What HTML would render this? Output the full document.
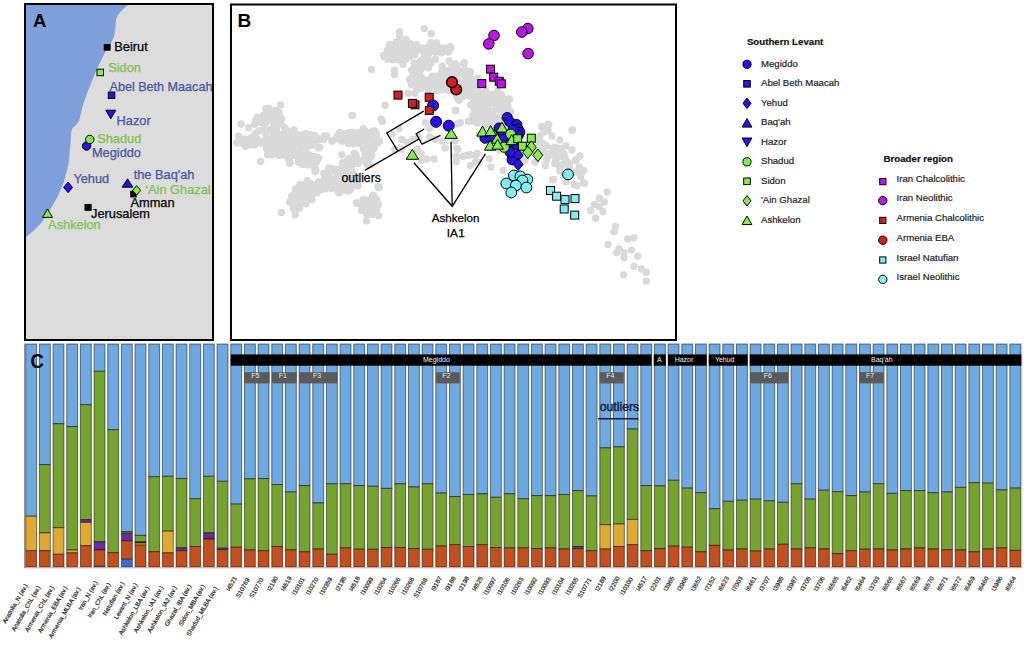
<!DOCTYPE html><html><head><meta charset="utf-8"><style>html,body{margin:0;padding:0;background:#fff;width:1024px;height:646px;overflow:hidden}svg{display:block}text{font-family:"Liberation Sans", sans-serif}</style></head><body><svg width="1024" height="646" viewBox="0 0 1024 646"><rect x="25" y="4" width="188" height="336" fill="#dcdcdc"/><polygon points="25,4 128.5,4.0 127.3,5.0 120.3,12.1 117.3,16.1 115.9,20.1 115.3,28.1 114.3,36.2 110.3,44.2 105.2,52.3 101.2,60.3 97.2,68.3 92.2,80.4 88.1,90.5 83.1,104.5 81.1,112.6 79.1,120.6 76.0,125.0 72.5,128.0 71.2,132.0 70.6,142.5 68.5,164.2 64.1,181.6 57.6,196.8 50.0,209.8 41.4,222.8 32.7,231.5 25.0,238.0 25,238" fill="#80a0dc"/><rect x="25" y="4" width="188" height="336" fill="none" stroke="#000" stroke-width="2"/><text x="33.0" y="27.0" font-size="18.5" fill="#000" font-weight="bold" text-anchor="start" >A</text><rect x="104.0" y="44.2" width="6.3" height="6.3" fill="#000" stroke="#000" stroke-width="0.5"/><text x="114.3" y="51.3" font-size="12.8" fill="#000" font-weight="normal" text-anchor="start"  stroke="#000" stroke-width="0.25">Beirut</text><rect x="97.0" y="69.2" width="6.5" height="6.5" fill="#86ee4a" stroke="#000" stroke-width="1"/><text x="108.2" y="71.6" font-size="12.8" fill="#7ec052" font-weight="normal" text-anchor="start"  stroke="#7ec052" stroke-width="0.25">Sidon</text><rect x="108.3" y="92.0" width="6.5" height="6.5" fill="#2a10ee" stroke="#000" stroke-width="1"/><text x="109.5" y="90.8" font-size="12.6" fill="#4656a2" font-weight="normal" text-anchor="start"  stroke="#4656a2" stroke-width="0.25">Abel Beth Maacah</text><polygon points="105.8,110.2 115.8,110.2 110.8,118.8" fill="#2a10ee" stroke="#000" stroke-width="1"/><text x="116.6" y="125.0" font-size="12.8" fill="#4656a2" font-weight="normal" text-anchor="start"  stroke="#4656a2" stroke-width="0.25">Hazor</text><circle cx="86.6" cy="146.0" r="4.20" fill="#2a10ee" stroke="#000" stroke-width="1"/><circle cx="89.8" cy="139.5" r="4.20" fill="#86ee4a" stroke="#000" stroke-width="1"/><text x="97.2" y="143.4" font-size="12.8" fill="#7ec052" font-weight="normal" text-anchor="start"  stroke="#7ec052" stroke-width="0.25">Shadud</text><text x="91.9" y="156.6" font-size="12.8" fill="#4656a2" font-weight="normal" text-anchor="start"  stroke="#4656a2" stroke-width="0.25">Megiddo</text><polygon points="68.1,182.1 72.5,187.4 68.1,192.7 63.7,187.4" fill="#2a10ee" stroke="#000" stroke-width="1" stroke-linejoin="miter"/><text x="73.4" y="183.0" font-size="12.8" fill="#4656a2" font-weight="normal" text-anchor="start"  stroke="#4656a2" stroke-width="0.25">Yehud</text><polygon points="127.5,178.8 132.8,187.2 122.2,187.2" fill="#2a10ee" stroke="#000" stroke-width="1"/><text x="133.7" y="179.4" font-size="12.8" fill="#4656a2" font-weight="normal" text-anchor="start"  stroke="#4656a2" stroke-width="0.25">the Baq'ah</text><rect x="130.4" y="191.1" width="6.0" height="6.0" fill="#000" stroke="#000" stroke-width="0.5"/><polygon points="136.6,185.6 140.6,190.3 136.6,195.1 132.6,190.3" fill="#86ee4a" stroke="#000" stroke-width="1" stroke-linejoin="miter"/><text x="145.2" y="194.1" font-size="12.8" fill="#7ec052" font-weight="normal" text-anchor="start"  stroke="#7ec052" stroke-width="0.25">‘Ain Ghazal</text><text x="130.5" y="207.4" font-size="12.8" fill="#000" font-weight="normal" text-anchor="start"  stroke="#000" stroke-width="0.25">Amman</text><rect x="84.8" y="204.2" width="6.5" height="6.5" fill="#000" stroke="#000" stroke-width="0.5"/><text x="91.0" y="218.2" font-size="12.8" fill="#000" font-weight="normal" text-anchor="start"  stroke="#000" stroke-width="0.25">Jerusalem</text><polygon points="47.5,208.9 52.5,217.4 42.5,217.4" fill="#86ee4a" stroke="#000" stroke-width="1"/><text x="48.1" y="228.8" font-size="12.8" fill="#7ec052" font-weight="normal" text-anchor="start"  stroke="#7ec052" stroke-width="0.25">Ashkelon</text><rect x="231" y="4.5" width="445" height="335.5" fill="#fff" stroke="#000" stroke-width="2"/><g id="cloud" fill="#d9d9d9"><circle cx="280.6" cy="105.0" r="3.7"/><circle cx="265.8" cy="108.7" r="3.7"/><circle cx="275.1" cy="110.4" r="3.7"/><circle cx="241.1" cy="124.0" r="3.7"/><circle cx="248.7" cy="127.8" r="3.7"/><circle cx="255.5" cy="120.6" r="3.7"/><circle cx="263.2" cy="115.5" r="3.7"/><circle cx="270.9" cy="117.2" r="3.7"/><circle cx="279.4" cy="115.5" r="3.7"/><circle cx="281.0" cy="124.0" r="3.7"/><circle cx="284.5" cy="127.5" r="3.7"/><circle cx="259.0" cy="130.9" r="3.7"/><circle cx="238.5" cy="136.0" r="3.7"/><circle cx="245.3" cy="139.4" r="3.7"/><circle cx="238.5" cy="142.8" r="3.7"/><circle cx="245.3" cy="146.2" r="3.7"/><circle cx="253.8" cy="144.5" r="3.7"/><circle cx="264.0" cy="141.0" r="3.7"/><circle cx="266.6" cy="148.7" r="3.7"/><circle cx="267.5" cy="154.7" r="3.7"/><circle cx="274.3" cy="137.7" r="3.7"/><circle cx="279.4" cy="144.5" r="3.7"/><circle cx="281.0" cy="154.7" r="3.7"/><circle cx="287.9" cy="158.1" r="3.7"/><circle cx="289.6" cy="163.2" r="3.7"/><circle cx="260.6" cy="161.5" r="3.7"/><circle cx="293.9" cy="130.0" r="3.7"/><circle cx="287.9" cy="136.0" r="3.7"/><circle cx="294.7" cy="141.0" r="3.7"/><circle cx="301.5" cy="136.0" r="3.7"/><circle cx="305.0" cy="134.3" r="3.7"/><circle cx="311.7" cy="136.0" r="3.7"/><circle cx="318.5" cy="139.4" r="3.7"/><circle cx="325.4" cy="136.0" r="3.7"/><circle cx="318.5" cy="147.9" r="3.7"/><circle cx="308.3" cy="142.8" r="3.7"/><circle cx="299.8" cy="146.2" r="3.7"/><circle cx="298.1" cy="153.0" r="3.7"/><circle cx="299.8" cy="161.5" r="3.7"/><circle cx="306.6" cy="158.1" r="3.7"/><circle cx="313.4" cy="156.4" r="3.7"/><circle cx="316.8" cy="161.5" r="3.7"/><circle cx="315.1" cy="168.3" r="3.7"/><circle cx="315.1" cy="171.7" r="3.7"/><circle cx="332.2" cy="141.0" r="3.7"/><circle cx="339.0" cy="134.3" r="3.7"/><circle cx="342.4" cy="141.0" r="3.7"/><circle cx="352.6" cy="115.5" r="3.7"/><circle cx="349.2" cy="132.6" r="3.7"/><circle cx="357.7" cy="132.6" r="3.7"/><circle cx="366.2" cy="132.6" r="3.7"/><circle cx="374.7" cy="130.9" r="3.7"/><circle cx="362.8" cy="141.0" r="3.7"/><circle cx="366.2" cy="149.6" r="3.7"/><circle cx="367.9" cy="158.1" r="3.7"/><circle cx="356.0" cy="154.7" r="3.7"/><circle cx="349.2" cy="158.1" r="3.7"/><circle cx="328.8" cy="168.3" r="3.7"/><circle cx="335.6" cy="171.7" r="3.7"/><circle cx="325.4" cy="175.1" r="3.7"/><circle cx="318.5" cy="182.0" r="3.7"/><circle cx="325.4" cy="185.4" r="3.7"/><circle cx="335.6" cy="182.0" r="3.7"/><circle cx="342.4" cy="185.4" r="3.7"/><circle cx="339.0" cy="192.2" r="3.7"/><circle cx="349.2" cy="182.0" r="3.7"/><circle cx="356.0" cy="178.5" r="3.7"/><circle cx="356.0" cy="185.4" r="3.7"/><circle cx="349.2" cy="190.5" r="3.7"/><circle cx="308.3" cy="182.0" r="3.7"/><circle cx="298.1" cy="187.9" r="3.7"/><circle cx="306.6" cy="192.2" r="3.7"/><circle cx="315.1" cy="192.2" r="3.7"/><circle cx="293.0" cy="195.6" r="3.7"/><circle cx="369.6" cy="164.9" r="3.7"/><circle cx="378.1" cy="187.0" r="3.7"/><circle cx="399.6" cy="32.0" r="3.7"/><circle cx="399.6" cy="36.3" r="3.7"/><circle cx="424.3" cy="28.6" r="3.7"/><circle cx="431.1" cy="33.7" r="3.7"/><circle cx="389.4" cy="45.6" r="3.7"/><circle cx="396.2" cy="42.2" r="3.7"/><circle cx="403.0" cy="42.2" r="3.7"/><circle cx="409.8" cy="43.1" r="3.7"/><circle cx="416.6" cy="44.8" r="3.7"/><circle cx="391.1" cy="50.8" r="3.7"/><circle cx="399.6" cy="49.1" r="3.7"/><circle cx="408.1" cy="50.8" r="3.7"/><circle cx="416.6" cy="49.1" r="3.7"/><circle cx="423.4" cy="49.9" r="3.7"/><circle cx="384.3" cy="56.7" r="3.7"/><circle cx="392.8" cy="55.9" r="3.7"/><circle cx="401.3" cy="55.0" r="3.7"/><circle cx="409.8" cy="56.7" r="3.7"/><circle cx="433.6" cy="45.6" r="3.7"/><circle cx="442.2" cy="48.2" r="3.7"/><circle cx="450.7" cy="48.2" r="3.7"/><circle cx="428.5" cy="51.6" r="3.7"/><circle cx="437.1" cy="51.6" r="3.7"/><circle cx="425.1" cy="56.7" r="3.7"/><circle cx="420.0" cy="61.8" r="3.7"/><circle cx="403.0" cy="64.4" r="3.7"/><circle cx="394.5" cy="70.3" r="3.7"/><circle cx="394.5" cy="74.6" r="3.7"/><circle cx="371.5" cy="69.5" r="3.7"/><circle cx="414.9" cy="66.1" r="3.7"/><circle cx="413.2" cy="73.7" r="3.7"/><circle cx="420.0" cy="71.2" r="3.7"/><circle cx="409.8" cy="79.7" r="3.7"/><circle cx="411.5" cy="84.8" r="3.7"/><circle cx="418.3" cy="83.1" r="3.7"/><circle cx="428.5" cy="67.8" r="3.7"/><circle cx="442.2" cy="66.1" r="3.7"/><circle cx="449.0" cy="61.0" r="3.7"/><circle cx="455.8" cy="64.4" r="3.7"/><circle cx="464.3" cy="62.7" r="3.7"/><circle cx="469.4" cy="72.0" r="3.7"/><circle cx="435.4" cy="76.3" r="3.7"/><circle cx="442.2" cy="79.7" r="3.7"/><circle cx="428.5" cy="81.4" r="3.7"/><circle cx="421.7" cy="78.0" r="3.7"/><circle cx="435.4" cy="86.5" r="3.7"/><circle cx="443.9" cy="88.2" r="3.7"/><circle cx="421.7" cy="88.2" r="3.7"/><circle cx="414.9" cy="93.3" r="3.7"/><circle cx="408.1" cy="93.3" r="3.7"/><circle cx="416.6" cy="89.9" r="3.7"/><circle cx="428.5" cy="89.9" r="3.7"/><circle cx="459.2" cy="81.4" r="3.7"/><circle cx="462.6" cy="86.5" r="3.7"/><circle cx="469.4" cy="95.0" r="3.7"/><circle cx="459.2" cy="100.1" r="3.7"/><circle cx="472.8" cy="103.5" r="3.7"/><circle cx="476.2" cy="93.3" r="3.7"/><circle cx="481.3" cy="96.7" r="3.7"/><circle cx="486.4" cy="93.3" r="3.7"/><circle cx="481.3" cy="107.0" r="3.7"/><circle cx="488.1" cy="108.6" r="3.7"/><circle cx="472.8" cy="115.5" r="3.7"/><circle cx="455.8" cy="110.4" r="3.7"/><circle cx="385.1" cy="105.2" r="3.7"/><circle cx="351.9" cy="115.5" r="3.7"/><circle cx="380.9" cy="118.9" r="3.7"/><circle cx="450.0" cy="72.0" r="3.7"/><circle cx="448.0" cy="80.0" r="3.7"/><circle cx="452.0" cy="90.0" r="3.7"/><circle cx="466.0" cy="94.0" r="3.7"/><circle cx="474.0" cy="84.0" r="3.7"/><circle cx="478.0" cy="78.0" r="3.7"/><circle cx="455.1" cy="63.4" r="3.7"/><circle cx="463.6" cy="63.4" r="3.7"/><circle cx="470.4" cy="71.9" r="3.7"/><circle cx="461.9" cy="71.9" r="3.7"/><circle cx="453.4" cy="71.9" r="3.7"/><circle cx="465.3" cy="85.5" r="3.7"/><circle cx="472.1" cy="87.2" r="3.7"/><circle cx="468.7" cy="95.8" r="3.7"/><circle cx="458.5" cy="100.0" r="3.7"/><circle cx="455.1" cy="110.2" r="3.7"/><circle cx="477.2" cy="94.1" r="3.7"/><circle cx="484.1" cy="94.1" r="3.7"/><circle cx="492.6" cy="94.1" r="3.7"/><circle cx="497.7" cy="90.6" r="3.7"/><circle cx="501.1" cy="95.8" r="3.7"/><circle cx="507.9" cy="99.2" r="3.7"/><circle cx="507.9" cy="106.0" r="3.7"/><circle cx="501.1" cy="104.3" r="3.7"/><circle cx="492.6" cy="102.6" r="3.7"/><circle cx="484.1" cy="102.6" r="3.7"/><circle cx="475.5" cy="104.3" r="3.7"/><circle cx="480.6" cy="111.1" r="3.7"/><circle cx="489.2" cy="111.1" r="3.7"/><circle cx="496.0" cy="109.4" r="3.7"/><circle cx="501.1" cy="111.1" r="3.7"/><circle cx="475.5" cy="116.2" r="3.7"/><circle cx="484.1" cy="117.9" r="3.7"/><circle cx="492.6" cy="117.9" r="3.7"/><circle cx="499.4" cy="117.9" r="3.7"/><circle cx="468.7" cy="121.3" r="3.7"/><circle cx="477.2" cy="123.0" r="3.7"/><circle cx="489.2" cy="124.7" r="3.7"/><circle cx="456.8" cy="123.9" r="3.7"/><circle cx="456.8" cy="148.5" r="3.7"/><circle cx="456.8" cy="157.1" r="3.7"/><circle cx="467.0" cy="155.4" r="3.7"/><circle cx="475.5" cy="155.4" r="3.7"/><circle cx="478.9" cy="162.2" r="3.7"/><circle cx="489.2" cy="158.8" r="3.7"/><circle cx="490.9" cy="167.3" r="3.7"/><circle cx="470.4" cy="165.6" r="3.7"/><circle cx="542.0" cy="126.4" r="3.7"/><circle cx="548.8" cy="124.7" r="3.7"/><circle cx="547.1" cy="129.8" r="3.7"/><circle cx="572.6" cy="129.8" r="3.7"/><circle cx="538.5" cy="141.7" r="3.7"/><circle cx="545.4" cy="145.1" r="3.7"/><circle cx="552.2" cy="148.5" r="3.7"/><circle cx="559.0" cy="148.5" r="3.7"/><circle cx="548.8" cy="155.4" r="3.7"/><circle cx="555.6" cy="157.1" r="3.7"/><circle cx="565.8" cy="160.5" r="3.7"/><circle cx="576.0" cy="160.5" r="3.7"/><circle cx="559.0" cy="165.6" r="3.7"/><circle cx="569.2" cy="167.3" r="3.7"/><circle cx="579.4" cy="167.3" r="3.7"/><circle cx="535.1" cy="162.2" r="3.7"/><circle cx="545.4" cy="165.6" r="3.7"/><circle cx="544.9" cy="145.0" r="3.7"/><circle cx="554.8" cy="147.4" r="3.7"/><circle cx="559.7" cy="149.9" r="3.7"/><circle cx="549.8" cy="154.9" r="3.7"/><circle cx="557.2" cy="157.3" r="3.7"/><circle cx="564.7" cy="158.6" r="3.7"/><circle cx="554.8" cy="163.5" r="3.7"/><circle cx="562.2" cy="164.8" r="3.7"/><circle cx="569.6" cy="164.8" r="3.7"/><circle cx="575.8" cy="159.8" r="3.7"/><circle cx="579.5" cy="169.7" r="3.7"/><circle cx="574.6" cy="172.2" r="3.7"/><circle cx="582.0" cy="172.2" r="3.7"/><circle cx="559.7" cy="170.9" r="3.7"/><circle cx="553.5" cy="179.6" r="3.7"/><circle cx="565.9" cy="182.1" r="3.7"/><circle cx="577.0" cy="185.8" r="3.7"/><circle cx="584.5" cy="183.3" r="3.7"/><circle cx="607.2" cy="192.0" r="3.7"/><circle cx="599.3" cy="198.2" r="3.7"/><circle cx="604.3" cy="201.9" r="3.7"/><circle cx="594.4" cy="204.4" r="3.7"/><circle cx="599.3" cy="206.8" r="3.7"/><circle cx="590.6" cy="210.5" r="3.7"/><circle cx="603.0" cy="211.8" r="3.7"/><circle cx="595.6" cy="218.0" r="3.7"/><circle cx="615.4" cy="226.6" r="3.7"/><circle cx="614.2" cy="231.6" r="3.7"/><circle cx="627.8" cy="239.0" r="3.7"/><circle cx="634.0" cy="237.8" r="3.7"/><circle cx="608.0" cy="244.5" r="3.7"/><circle cx="619.1" cy="248.9" r="3.7"/><circle cx="624.1" cy="252.6" r="3.7"/><circle cx="616.6" cy="252.6" r="3.7"/><circle cx="631.5" cy="250.1" r="3.7"/><circle cx="624.1" cy="257.6" r="3.7"/><circle cx="637.7" cy="256.3" r="3.7"/><circle cx="634.0" cy="266.2" r="3.7"/><circle cx="641.4" cy="268.7" r="3.7"/><circle cx="646.3" cy="272.4" r="3.7"/><circle cx="623.6" cy="274.9" r="3.7"/><circle cx="646.3" cy="281.1" r="3.7"/><circle cx="307.8" cy="182.6" r="3.7"/><circle cx="299.3" cy="187.7" r="3.7"/><circle cx="305.2" cy="188.5" r="3.7"/><circle cx="312.0" cy="189.4" r="3.7"/><circle cx="317.1" cy="192.8" r="3.7"/><circle cx="291.6" cy="196.2" r="3.7"/><circle cx="300.1" cy="196.2" r="3.7"/><circle cx="289.9" cy="202.1" r="3.7"/><circle cx="296.7" cy="201.3" r="3.7"/><circle cx="303.5" cy="203.0" r="3.7"/><circle cx="312.0" cy="199.6" r="3.7"/><circle cx="293.3" cy="208.9" r="3.7"/><circle cx="299.3" cy="208.1" r="3.7"/><circle cx="295.0" cy="214.9" r="3.7"/><circle cx="281.4" cy="212.4" r="3.7"/><circle cx="320.5" cy="183.4" r="3.7"/><circle cx="327.4" cy="186.8" r="3.7"/><circle cx="334.2" cy="186.8" r="3.7"/><circle cx="341.0" cy="186.8" r="3.7"/><circle cx="349.5" cy="188.5" r="3.7"/><circle cx="339.3" cy="192.8" r="3.7"/><circle cx="358.0" cy="186.0" r="3.7"/><circle cx="378.4" cy="187.7" r="3.7"/><circle cx="356.3" cy="203.0" r="3.7"/><circle cx="373.3" cy="195.3" r="3.7"/><circle cx="366.5" cy="200.4" r="3.7"/><circle cx="376.7" cy="203.0" r="3.7"/><circle cx="361.4" cy="210.6" r="3.7"/><circle cx="369.9" cy="208.9" r="3.7"/><circle cx="376.7" cy="210.6" r="3.7"/><circle cx="368.2" cy="214.9" r="3.7"/><circle cx="366.5" cy="220.9" r="3.7"/><circle cx="382.3" cy="121.4" r="3.7"/><circle cx="365.6" cy="131.1" r="3.7"/><circle cx="372.5" cy="131.1" r="3.7"/><circle cx="376.7" cy="138.1" r="3.7"/><circle cx="368.4" cy="139.5" r="3.7"/><circle cx="362.8" cy="143.7" r="3.7"/><circle cx="368.4" cy="147.9" r="3.7"/><circle cx="373.9" cy="145.1" r="3.7"/><circle cx="379.5" cy="140.9" r="3.7"/><circle cx="365.6" cy="154.8" r="3.7"/><circle cx="371.1" cy="156.2" r="3.7"/><circle cx="367.0" cy="164.6" r="3.7"/><circle cx="362.8" cy="160.4" r="3.7"/><circle cx="379.5" cy="186.9" r="3.7"/><circle cx="372.5" cy="196.7" r="3.7"/><circle cx="368.4" cy="202.2" r="3.7"/><circle cx="376.7" cy="203.6" r="3.7"/><circle cx="392.1" cy="133.9" r="3.7"/><circle cx="399.0" cy="128.4" r="3.7"/><circle cx="401.8" cy="139.5" r="3.7"/><circle cx="407.4" cy="142.3" r="3.7"/><circle cx="413.0" cy="139.5" r="3.7"/><circle cx="418.5" cy="136.7" r="3.7"/><circle cx="394.8" cy="149.3" r="3.7"/><circle cx="401.8" cy="149.3" r="3.7"/><circle cx="417.1" cy="149.3" r="3.7"/><circle cx="421.3" cy="153.4" r="3.7"/><circle cx="426.9" cy="159.0" r="3.7"/><circle cx="433.9" cy="159.0" r="3.7"/><circle cx="421.3" cy="160.4" r="3.7"/><circle cx="425.5" cy="122.8" r="3.7"/><circle cx="429.7" cy="128.4" r="3.7"/><circle cx="429.7" cy="136.7" r="3.7"/><circle cx="435.3" cy="139.5" r="3.7"/><circle cx="442.2" cy="140.9" r="3.7"/><circle cx="445.0" cy="147.9" r="3.7"/><circle cx="454.8" cy="140.9" r="3.7"/><circle cx="457.6" cy="149.3" r="3.7"/><circle cx="456.2" cy="156.2" r="3.7"/><circle cx="456.2" cy="161.8" r="3.7"/><circle cx="463.1" cy="156.2" r="3.7"/><circle cx="470.1" cy="154.8" r="3.7"/><circle cx="477.1" cy="153.4" r="3.7"/><circle cx="475.7" cy="161.8" r="3.7"/><circle cx="468.7" cy="121.4" r="3.7"/><circle cx="474.3" cy="121.4" r="3.7"/><circle cx="460.3" cy="122.8" r="3.7"/><circle cx="283.7" cy="133.7" r="3.7"/><circle cx="289.9" cy="138.7" r="3.7"/><circle cx="294.9" cy="135.0" r="3.7"/><circle cx="301.1" cy="136.2" r="3.7"/><circle cx="306.0" cy="133.7" r="3.7"/><circle cx="311.0" cy="135.0" r="3.7"/><circle cx="317.2" cy="137.4" r="3.7"/><circle cx="324.6" cy="136.2" r="3.7"/><circle cx="283.7" cy="144.9" r="3.7"/><circle cx="289.9" cy="143.6" r="3.7"/><circle cx="296.1" cy="143.6" r="3.7"/><circle cx="302.3" cy="142.4" r="3.7"/><circle cx="308.5" cy="144.9" r="3.7"/><circle cx="314.7" cy="143.6" r="3.7"/><circle cx="319.6" cy="147.3" r="3.7"/><circle cx="282.5" cy="154.8" r="3.7"/><circle cx="287.4" cy="153.5" r="3.7"/><circle cx="293.6" cy="151.1" r="3.7"/><circle cx="302.3" cy="148.6" r="3.7"/><circle cx="289.9" cy="162.2" r="3.7"/><circle cx="298.6" cy="162.2" r="3.7"/><circle cx="303.5" cy="156.0" r="3.7"/><circle cx="309.7" cy="157.3" r="3.7"/><circle cx="317.2" cy="157.3" r="3.7"/><circle cx="314.7" cy="167.2" r="3.7"/><circle cx="315.9" cy="170.9" r="3.7"/><circle cx="332.0" cy="141.1" r="3.7"/><circle cx="337.0" cy="136.2" r="3.7"/><circle cx="341.9" cy="141.1" r="3.7"/><circle cx="339.5" cy="132.5" r="3.7"/><circle cx="349.4" cy="133.7" r="3.7"/><circle cx="356.8" cy="133.7" r="3.7"/><circle cx="360.5" cy="139.9" r="3.7"/><circle cx="366.7" cy="137.4" r="3.7"/><circle cx="374.1" cy="135.0" r="3.7"/><circle cx="377.9" cy="141.1" r="3.7"/><circle cx="364.2" cy="146.1" r="3.7"/><circle cx="370.4" cy="148.6" r="3.7"/><circle cx="366.7" cy="154.8" r="3.7"/><circle cx="371.7" cy="156.0" r="3.7"/><circle cx="367.9" cy="164.7" r="3.7"/><circle cx="341.9" cy="154.8" r="3.7"/><circle cx="354.3" cy="153.5" r="3.7"/><circle cx="346.9" cy="161.0" r="3.7"/><circle cx="354.3" cy="159.7" r="3.7"/><circle cx="358.0" cy="163.4" r="3.7"/><circle cx="349.4" cy="165.9" r="3.7"/><circle cx="329.5" cy="168.4" r="3.7"/><circle cx="335.7" cy="169.6" r="3.7"/><circle cx="341.9" cy="170.9" r="3.7"/><circle cx="324.6" cy="177.1" r="3.7"/><circle cx="319.6" cy="182.0" r="3.7"/><circle cx="327.1" cy="182.0" r="3.7"/><circle cx="334.5" cy="180.8" r="3.7"/><circle cx="339.5" cy="184.5" r="3.7"/><circle cx="349.4" cy="185.7" r="3.7"/><circle cx="356.8" cy="184.5" r="3.7"/><circle cx="346.9" cy="190.7" r="3.7"/><circle cx="338.2" cy="191.9" r="3.7"/><circle cx="332.0" cy="188.2" r="3.7"/><circle cx="323.4" cy="187.0" r="3.7"/><circle cx="307.3" cy="180.8" r="3.7"/><circle cx="298.6" cy="187.0" r="3.7"/><circle cx="306.0" cy="188.2" r="3.7"/><circle cx="313.4" cy="188.2" r="3.7"/><circle cx="317.2" cy="191.9" r="3.7"/><circle cx="311.0" cy="196.9" r="3.7"/><circle cx="303.5" cy="195.7" r="3.7"/><circle cx="292.4" cy="195.7" r="3.7"/><circle cx="289.9" cy="201.8" r="3.7"/><circle cx="298.6" cy="201.8" r="3.7"/><circle cx="293.6" cy="206.8" r="3.7"/><circle cx="379.1" cy="187.0" r="3.7"/><circle cx="356.8" cy="203.1" r="3.7"/><circle cx="366.7" cy="200.6" r="3.7"/><circle cx="374.1" cy="196.9" r="3.7"/><circle cx="376.6" cy="204.3" r="3.7"/><circle cx="495.0" cy="130.0" r="3.7"/><circle cx="505.0" cy="125.0" r="3.7"/><circle cx="515.0" cy="140.0" r="3.7"/><circle cx="500.0" cy="150.0" r="3.7"/><circle cx="510.0" cy="160.0" r="3.7"/><circle cx="520.0" cy="150.0" r="3.7"/><circle cx="530.0" cy="145.0" r="3.7"/><circle cx="525.0" cy="160.0" r="3.7"/><circle cx="535.0" cy="150.0" r="3.7"/><circle cx="540.0" cy="136.0" r="3.7"/><circle cx="500.0" cy="140.0" r="3.7"/><circle cx="490.0" cy="140.0" r="3.7"/><circle cx="480.0" cy="135.0" r="3.7"/><circle cx="485.0" cy="125.0" r="3.7"/><circle cx="504.6" cy="99.3" r="3.7"/><circle cx="509.3" cy="99.3" r="3.7"/><circle cx="506.2" cy="107.0" r="3.7"/><circle cx="501.5" cy="105.5" r="3.7"/><circle cx="541.8" cy="127.2" r="3.7"/><circle cx="548.0" cy="124.1" r="3.7"/><circle cx="548.0" cy="130.3" r="3.7"/><circle cx="572.0" cy="130.3" r="3.7"/><circle cx="537.2" cy="139.6" r="3.7"/><circle cx="541.8" cy="142.6" r="3.7"/><circle cx="546.5" cy="145.7" r="3.7"/><circle cx="554.2" cy="147.3" r="3.7"/><circle cx="560.4" cy="148.8" r="3.7"/><circle cx="543.4" cy="151.9" r="3.7"/><circle cx="549.6" cy="153.5" r="3.7"/><circle cx="558.8" cy="156.6" r="3.7"/><circle cx="565.0" cy="158.1" r="3.7"/><circle cx="575.9" cy="159.7" r="3.7"/><circle cx="546.5" cy="159.7" r="3.7"/><circle cx="555.7" cy="161.2" r="3.7"/><circle cx="568.1" cy="162.8" r="3.7"/><circle cx="560.4" cy="167.4" r="3.7"/><circle cx="579.0" cy="170.5" r="3.7"/><circle cx="583.6" cy="170.5" r="3.7"/><circle cx="580.5" cy="176.7" r="3.7"/><circle cx="552.6" cy="179.8" r="3.7"/><circle cx="574.3" cy="184.5" r="3.7"/><circle cx="583.6" cy="182.9" r="3.7"/><circle cx="503.1" cy="170.5" r="3.7"/><circle cx="268.7" cy="108.5" r="3.7"/><circle cx="267.0" cy="113.7" r="3.7"/><circle cx="272.7" cy="113.5" r="3.7"/><circle cx="279.0" cy="112.1" r="3.7"/><circle cx="257.3" cy="117.3" r="3.7"/><circle cx="264.4" cy="118.1" r="3.7"/><circle cx="270.1" cy="119.0" r="3.7"/><circle cx="276.1" cy="119.0" r="3.7"/><circle cx="281.5" cy="118.8" r="3.7"/><circle cx="254.6" cy="124.3" r="3.7"/><circle cx="261.5" cy="122.6" r="3.7"/><circle cx="266.0" cy="122.8" r="3.7"/><circle cx="273.6" cy="123.3" r="3.7"/><circle cx="279.0" cy="123.0" r="3.7"/><circle cx="263.9" cy="129.4" r="3.7"/><circle cx="270.1" cy="129.5" r="3.7"/><circle cx="276.4" cy="129.6" r="3.7"/><circle cx="255.3" cy="133.4" r="3.7"/><circle cx="240.3" cy="139.5" r="3.7"/><circle cx="244.8" cy="139.1" r="3.7"/><circle cx="251.4" cy="137.8" r="3.7"/><circle cx="257.2" cy="139.0" r="3.7"/><circle cx="236.8" cy="142.8" r="3.7"/><circle cx="243.0" cy="143.4" r="3.7"/><circle cx="249.4" cy="144.7" r="3.7"/><circle cx="254.6" cy="144.7" r="3.7"/><circle cx="260.2" cy="142.9" r="3.7"/><circle cx="287.0" cy="130.7" r="3.7"/><circle cx="265.9" cy="134.6" r="3.7"/><circle cx="273.4" cy="135.0" r="3.7"/><circle cx="278.5" cy="134.0" r="3.7"/><circle cx="284.2" cy="135.2" r="3.7"/><circle cx="289.4" cy="135.2" r="3.7"/><circle cx="296.7" cy="134.1" r="3.7"/><circle cx="302.7" cy="134.9" r="3.7"/><circle cx="308.8" cy="134.7" r="3.7"/><circle cx="314.8" cy="135.5" r="3.7"/><circle cx="326.8" cy="135.9" r="3.7"/><circle cx="269.6" cy="139.8" r="3.7"/><circle cx="275.1" cy="139.8" r="3.7"/><circle cx="281.1" cy="140.4" r="3.7"/><circle cx="287.0" cy="140.0" r="3.7"/><circle cx="293.9" cy="139.3" r="3.7"/><circle cx="299.5" cy="140.7" r="3.7"/><circle cx="305.0" cy="139.6" r="3.7"/><circle cx="312.0" cy="139.7" r="3.7"/><circle cx="316.8" cy="140.1" r="3.7"/><circle cx="323.8" cy="139.4" r="3.7"/><circle cx="266.0" cy="145.1" r="3.7"/><circle cx="273.1" cy="145.3" r="3.7"/><circle cx="279.1" cy="144.7" r="3.7"/><circle cx="284.1" cy="145.7" r="3.7"/><circle cx="291.2" cy="145.3" r="3.7"/><circle cx="295.9" cy="144.6" r="3.7"/><circle cx="302.5" cy="144.8" r="3.7"/><circle cx="309.0" cy="146.1" r="3.7"/><circle cx="313.8" cy="145.0" r="3.7"/><circle cx="270.0" cy="150.1" r="3.7"/><circle cx="275.1" cy="150.4" r="3.7"/><circle cx="281.2" cy="150.4" r="3.7"/><circle cx="288.2" cy="149.9" r="3.7"/><circle cx="292.4" cy="151.5" r="3.7"/><circle cx="300.2" cy="151.6" r="3.7"/><circle cx="305.3" cy="151.5" r="3.7"/><circle cx="271.9" cy="154.9" r="3.7"/><circle cx="278.6" cy="155.4" r="3.7"/><circle cx="285.0" cy="154.9" r="3.7"/><circle cx="291.2" cy="156.2" r="3.7"/><circle cx="297.2" cy="156.6" r="3.7"/><circle cx="309.0" cy="154.8" r="3.7"/><circle cx="300.1" cy="160.0" r="3.7"/><circle cx="305.3" cy="160.0" r="3.7"/><circle cx="312.8" cy="160.0" r="3.7"/><circle cx="318.6" cy="158.4" r="3.7"/><circle cx="308.5" cy="164.7" r="3.7"/><circle cx="314.8" cy="164.5" r="3.7"/><circle cx="299.0" cy="159.2" r="3.7"/><circle cx="305.1" cy="159.9" r="3.7"/><circle cx="311.6" cy="159.3" r="3.7"/><circle cx="316.8" cy="159.3" r="3.7"/><circle cx="302.8" cy="164.6" r="3.7"/><circle cx="307.6" cy="164.2" r="3.7"/><circle cx="314.1" cy="165.0" r="3.7"/><circle cx="363.4" cy="128.8" r="3.7"/><circle cx="342.1" cy="133.5" r="3.7"/><circle cx="346.8" cy="133.6" r="3.7"/><circle cx="352.6" cy="132.7" r="3.7"/><circle cx="360.1" cy="132.5" r="3.7"/><circle cx="364.8" cy="132.6" r="3.7"/><circle cx="372.4" cy="132.8" r="3.7"/><circle cx="376.6" cy="134.1" r="3.7"/><circle cx="338.9" cy="139.3" r="3.7"/><circle cx="345.5" cy="138.8" r="3.7"/><circle cx="351.2" cy="137.7" r="3.7"/><circle cx="357.1" cy="138.6" r="3.7"/><circle cx="363.0" cy="137.8" r="3.7"/><circle cx="369.1" cy="139.5" r="3.7"/><circle cx="373.7" cy="138.2" r="3.7"/><circle cx="348.1" cy="143.6" r="3.7"/><circle cx="353.3" cy="143.6" r="3.7"/><circle cx="359.3" cy="143.6" r="3.7"/><circle cx="364.8" cy="143.8" r="3.7"/><circle cx="372.5" cy="143.6" r="3.7"/><circle cx="378.1" cy="143.1" r="3.7"/><circle cx="363.4" cy="149.0" r="3.7"/><circle cx="368.5" cy="149.4" r="3.7"/><circle cx="374.0" cy="148.5" r="3.7"/><circle cx="365.0" cy="153.2" r="3.7"/><circle cx="371.6" cy="154.0" r="3.7"/><circle cx="369.3" cy="159.2" r="3.7"/><circle cx="356.6" cy="158.4" r="3.7"/><circle cx="342.3" cy="162.9" r="3.7"/><circle cx="347.9" cy="163.7" r="3.7"/><circle cx="353.0" cy="163.6" r="3.7"/><circle cx="332.7" cy="168.7" r="3.7"/><circle cx="337.8" cy="169.2" r="3.7"/><circle cx="344.7" cy="167.6" r="3.7"/><circle cx="351.3" cy="167.7" r="3.7"/><circle cx="323.9" cy="173.3" r="3.7"/><circle cx="328.9" cy="173.4" r="3.7"/><circle cx="336.1" cy="172.7" r="3.7"/><circle cx="341.4" cy="173.1" r="3.7"/><circle cx="347.9" cy="173.3" r="3.7"/><circle cx="353.1" cy="173.4" r="3.7"/><circle cx="326.2" cy="179.3" r="3.7"/><circle cx="333.0" cy="179.3" r="3.7"/><circle cx="338.6" cy="178.1" r="3.7"/><circle cx="344.2" cy="178.2" r="3.7"/><circle cx="350.5" cy="178.9" r="3.7"/><circle cx="300.0" cy="184.8" r="3.7"/><circle cx="306.3" cy="183.8" r="3.7"/><circle cx="311.5" cy="184.2" r="3.7"/><circle cx="317.7" cy="185.0" r="3.7"/><circle cx="323.8" cy="183.6" r="3.7"/><circle cx="330.1" cy="184.0" r="3.7"/><circle cx="335.6" cy="184.5" r="3.7"/><circle cx="340.4" cy="184.5" r="3.7"/><circle cx="347.7" cy="184.0" r="3.7"/><circle cx="353.4" cy="183.9" r="3.7"/><circle cx="295.5" cy="189.2" r="3.7"/><circle cx="302.7" cy="189.1" r="3.7"/><circle cx="308.5" cy="190.1" r="3.7"/><circle cx="315.2" cy="188.5" r="3.7"/><circle cx="321.0" cy="189.4" r="3.7"/><circle cx="325.5" cy="188.9" r="3.7"/><circle cx="331.9" cy="188.4" r="3.7"/><circle cx="338.5" cy="190.1" r="3.7"/><circle cx="344.0" cy="189.9" r="3.7"/><circle cx="350.8" cy="188.5" r="3.7"/><circle cx="294.3" cy="194.8" r="3.7"/><circle cx="299.9" cy="194.1" r="3.7"/><circle cx="306.0" cy="195.3" r="3.7"/><circle cx="312.1" cy="194.3" r="3.7"/><circle cx="295.8" cy="200.4" r="3.7"/><circle cx="302.8" cy="199.3" r="3.7"/><circle cx="308.1" cy="199.7" r="3.7"/><circle cx="292.5" cy="203.8" r="3.7"/><circle cx="299.3" cy="204.6" r="3.7"/><circle cx="305.8" cy="203.9" r="3.7"/><circle cx="295.9" cy="209.5" r="3.7"/><circle cx="363.0" cy="199.6" r="3.7"/><circle cx="369.5" cy="200.2" r="3.7"/><circle cx="376.7" cy="199.1" r="3.7"/><circle cx="361.3" cy="205.5" r="3.7"/><circle cx="367.5" cy="205.1" r="3.7"/><circle cx="373.6" cy="204.7" r="3.7"/><circle cx="378.6" cy="204.5" r="3.7"/><circle cx="364.4" cy="210.2" r="3.7"/><circle cx="369.3" cy="209.5" r="3.7"/><circle cx="376.2" cy="210.4" r="3.7"/><circle cx="366.8" cy="214.7" r="3.7"/><circle cx="373.2" cy="214.4" r="3.7"/><circle cx="378.7" cy="215.9" r="3.7"/><circle cx="406.1" cy="39.5" r="3.7"/><circle cx="389.5" cy="44.5" r="3.7"/><circle cx="395.8" cy="43.3" r="3.7"/><circle cx="401.6" cy="44.5" r="3.7"/><circle cx="408.5" cy="43.2" r="3.7"/><circle cx="413.8" cy="45.1" r="3.7"/><circle cx="387.5" cy="50.0" r="3.7"/><circle cx="393.4" cy="48.8" r="3.7"/><circle cx="398.7" cy="48.6" r="3.7"/><circle cx="406.0" cy="48.6" r="3.7"/><circle cx="410.3" cy="50.3" r="3.7"/><circle cx="416.7" cy="50.2" r="3.7"/><circle cx="422.5" cy="49.3" r="3.7"/><circle cx="383.7" cy="55.3" r="3.7"/><circle cx="390.5" cy="54.9" r="3.7"/><circle cx="396.8" cy="55.3" r="3.7"/><circle cx="402.0" cy="54.8" r="3.7"/><circle cx="408.2" cy="53.8" r="3.7"/><circle cx="415.0" cy="54.8" r="3.7"/><circle cx="387.8" cy="59.0" r="3.7"/><circle cx="393.0" cy="59.8" r="3.7"/><circle cx="398.4" cy="59.9" r="3.7"/><circle cx="405.8" cy="59.6" r="3.7"/><circle cx="430.8" cy="42.5" r="3.7"/><circle cx="436.6" cy="43.0" r="3.7"/><circle cx="421.8" cy="48.0" r="3.7"/><circle cx="427.8" cy="47.2" r="3.7"/><circle cx="433.4" cy="47.0" r="3.7"/><circle cx="439.9" cy="48.0" r="3.7"/><circle cx="444.5" cy="48.1" r="3.7"/><circle cx="450.3" cy="46.4" r="3.7"/><circle cx="423.9" cy="52.7" r="3.7"/><circle cx="429.0" cy="52.9" r="3.7"/><circle cx="435.5" cy="52.3" r="3.7"/><circle cx="441.6" cy="52.9" r="3.7"/><circle cx="448.4" cy="52.0" r="3.7"/><circle cx="422.3" cy="59.6" r="3.7"/><circle cx="428.2" cy="58.8" r="3.7"/><circle cx="435.4" cy="59.5" r="3.7"/><circle cx="414.2" cy="63.1" r="3.7"/><circle cx="418.9" cy="64.2" r="3.7"/><circle cx="425.7" cy="63.4" r="3.7"/><circle cx="430.7" cy="63.5" r="3.7"/><circle cx="411.6" cy="69.9" r="3.7"/><circle cx="417.6" cy="68.4" r="3.7"/><circle cx="422.0" cy="68.3" r="3.7"/><circle cx="413.1" cy="75.1" r="3.7"/><circle cx="419.4" cy="74.0" r="3.7"/><circle cx="410.1" cy="79.0" r="3.7"/><circle cx="417.1" cy="80.3" r="3.7"/><circle cx="414.4" cy="84.8" r="3.7"/><circle cx="419.9" cy="85.8" r="3.7"/><circle cx="451.7" cy="64.1" r="3.7"/><circle cx="456.7" cy="65.4" r="3.7"/><circle cx="442.0" cy="70.4" r="3.7"/><circle cx="448.6" cy="70.2" r="3.7"/><circle cx="454.5" cy="68.9" r="3.7"/><circle cx="459.5" cy="70.8" r="3.7"/><circle cx="465.0" cy="69.4" r="3.7"/><circle cx="432.3" cy="76.1" r="3.7"/><circle cx="439.2" cy="75.4" r="3.7"/><circle cx="444.2" cy="74.2" r="3.7"/><circle cx="451.4" cy="74.5" r="3.7"/><circle cx="456.3" cy="75.7" r="3.7"/><circle cx="463.6" cy="74.2" r="3.7"/><circle cx="469.8" cy="75.2" r="3.7"/><circle cx="423.5" cy="79.6" r="3.7"/><circle cx="429.2" cy="79.6" r="3.7"/><circle cx="435.6" cy="81.1" r="3.7"/><circle cx="441.1" cy="79.7" r="3.7"/><circle cx="448.8" cy="81.3" r="3.7"/><circle cx="454.9" cy="79.8" r="3.7"/><circle cx="459.6" cy="81.2" r="3.7"/><circle cx="465.9" cy="80.7" r="3.7"/><circle cx="471.5" cy="79.3" r="3.7"/><circle cx="421.5" cy="85.6" r="3.7"/><circle cx="426.8" cy="85.6" r="3.7"/><circle cx="432.8" cy="85.6" r="3.7"/><circle cx="439.6" cy="84.9" r="3.7"/><circle cx="445.1" cy="86.4" r="3.7"/><circle cx="451.6" cy="84.9" r="3.7"/><circle cx="457.8" cy="86.2" r="3.7"/><circle cx="462.2" cy="85.0" r="3.7"/><circle cx="468.3" cy="84.6" r="3.7"/><circle cx="475.9" cy="85.3" r="3.7"/><circle cx="436.3" cy="90.8" r="3.7"/><circle cx="442.4" cy="89.9" r="3.7"/><circle cx="448.0" cy="90.6" r="3.7"/><circle cx="453.2" cy="90.9" r="3.7"/><circle cx="459.5" cy="90.7" r="3.7"/><circle cx="465.6" cy="90.3" r="3.7"/><circle cx="471.6" cy="90.9" r="3.7"/><circle cx="478.9" cy="91.6" r="3.7"/><circle cx="456.8" cy="95.9" r="3.7"/><circle cx="463.0" cy="96.6" r="3.7"/><circle cx="469.9" cy="96.0" r="3.7"/><circle cx="474.8" cy="96.1" r="3.7"/><circle cx="485.8" cy="91.0" r="3.7"/><circle cx="470.6" cy="95.2" r="3.7"/><circle cx="476.8" cy="94.9" r="3.7"/><circle cx="483.3" cy="96.0" r="3.7"/><circle cx="489.2" cy="94.5" r="3.7"/><circle cx="494.4" cy="94.9" r="3.7"/><circle cx="501.2" cy="94.5" r="3.7"/><circle cx="474.1" cy="101.2" r="3.7"/><circle cx="480.1" cy="100.9" r="3.7"/><circle cx="486.7" cy="101.1" r="3.7"/><circle cx="492.8" cy="100.3" r="3.7"/><circle cx="498.4" cy="99.6" r="3.7"/><circle cx="504.8" cy="100.2" r="3.7"/><circle cx="470.6" cy="105.0" r="3.7"/><circle cx="477.6" cy="105.8" r="3.7"/><circle cx="482.2" cy="104.7" r="3.7"/><circle cx="488.7" cy="104.6" r="3.7"/><circle cx="495.7" cy="105.0" r="3.7"/><circle cx="500.5" cy="105.4" r="3.7"/><circle cx="507.0" cy="105.5" r="3.7"/><circle cx="473.9" cy="110.0" r="3.7"/><circle cx="481.0" cy="111.2" r="3.7"/><circle cx="485.2" cy="110.7" r="3.7"/><circle cx="492.5" cy="111.8" r="3.7"/><circle cx="497.1" cy="109.8" r="3.7"/><circle cx="504.0" cy="110.6" r="3.7"/><circle cx="510.8" cy="111.5" r="3.7"/><circle cx="477.2" cy="116.8" r="3.7"/><circle cx="482.4" cy="115.8" r="3.7"/><circle cx="488.2" cy="116.3" r="3.7"/><circle cx="494.1" cy="116.9" r="3.7"/><circle cx="501.0" cy="116.1" r="3.7"/><circle cx="506.2" cy="115.5" r="3.7"/><circle cx="481.0" cy="121.5" r="3.7"/><circle cx="486.1" cy="120.6" r="3.7"/><circle cx="491.6" cy="122.0" r="3.7"/><circle cx="497.3" cy="121.3" r="3.7"/><circle cx="504.2" cy="120.9" r="3.7"/><circle cx="510.5" cy="122.0" r="3.7"/><circle cx="544.0" cy="132.0" r="3.7"/><circle cx="552.0" cy="136.0" r="3.7"/><circle cx="560.0" cy="140.0" r="3.7"/><circle cx="566.0" cy="146.0" r="3.7"/><circle cx="572.0" cy="150.0" r="3.7"/><circle cx="580.0" cy="156.0" r="3.7"/><circle cx="540.0" cy="150.0" r="3.7"/><circle cx="556.0" cy="152.0" r="3.7"/><circle cx="564.0" cy="154.0" r="3.7"/></g><text x="237.4" y="27.2" font-size="19" fill="#000" font-weight="bold" text-anchor="start" >B</text><polyline points="423.8,111.1 386.7,133 397.6,150.6" stroke="#000" stroke-width="1.3" fill="none"/><polyline points="424.3,129 416.2,133.7 422,144.1 440.5,135.3" stroke="#000" stroke-width="1.3" fill="none"/><line x1="365.1" y1="170.1" x2="419" y2="139" stroke="#000" stroke-width="1.3" fill="none"/><polyline points="413.9,162.7 452.2,206.3 485.4,153.9" stroke="#000" stroke-width="1.3" fill="none"/><line x1="452.2" y1="206.3" x2="451" y2="141.8" stroke="#000" stroke-width="1.3" fill="none"/><text x="341.5" y="182.0" font-size="12.2" fill="#000" font-weight="normal" text-anchor="start" stroke="#000" stroke-width="0.25">outliers</text><text x="455.6" y="221.7" font-size="11.6" fill="#000" font-weight="normal" text-anchor="middle" stroke="#000" stroke-width="0.25">Ashkelon</text><text x="455.8" y="236.8" font-size="11.8" fill="#000" font-weight="normal" text-anchor="middle" style="letter-spacing:0.2px" stroke="#000" stroke-width="0.25">IA1</text><circle cx="494.0" cy="35.5" r="5.30" fill="#bc16e6" stroke="#000" stroke-width="1.0"/><circle cx="488.8" cy="43.9" r="5.30" fill="#bc16e6" stroke="#000" stroke-width="1.0"/><circle cx="527.8" cy="28.5" r="5.30" fill="#bc16e6" stroke="#000" stroke-width="1.0"/><circle cx="521.8" cy="32.0" r="5.30" fill="#bc16e6" stroke="#000" stroke-width="1.0"/><circle cx="528.1" cy="53.6" r="5.30" fill="#bc16e6" stroke="#000" stroke-width="1.0"/><rect x="486.5" y="65.2" width="8.0" height="8.0" fill="#bc16e6" stroke="#000" stroke-width="1.0"/><rect x="489.7" y="73.2" width="8.0" height="8.0" fill="#bc16e6" stroke="#000" stroke-width="1.0"/><rect x="495.3" y="77.3" width="8.0" height="8.0" fill="#bc16e6" stroke="#000" stroke-width="1.0"/><rect x="497.3" y="79.8" width="8.0" height="8.0" fill="#bc16e6" stroke="#000" stroke-width="1.0"/><rect x="477.8" y="79.6" width="8.0" height="8.0" fill="#bc16e6" stroke="#000" stroke-width="1.0"/><rect x="394.0" y="91.1" width="8.0" height="8.0" fill="#cc2222" stroke="#000" stroke-width="1.0"/><rect x="411.0" y="100.8" width="8.0" height="8.0" fill="#cc2222" stroke="#000" stroke-width="1.0"/><rect x="408.4" y="99.4" width="8.0" height="8.0" fill="#cc2222" stroke="#000" stroke-width="1.0"/><rect x="425.2" y="93.3" width="8.0" height="8.0" fill="#cc2222" stroke="#000" stroke-width="1.0"/><circle cx="456.2" cy="89.5" r="5.40" fill="#d41c1c" stroke="#000" stroke-width="1.4"/><circle cx="452.0" cy="82.2" r="5.40" fill="#d41c1c" stroke="#000" stroke-width="1.4"/><circle cx="433.1" cy="105.5" r="5.50" fill="#2a10ee" stroke="#000" stroke-width="1.0"/><circle cx="436.1" cy="121.8" r="5.50" fill="#2a10ee" stroke="#000" stroke-width="1.0"/><circle cx="448.7" cy="125.7" r="5.50" fill="#2a10ee" stroke="#000" stroke-width="1.0"/><rect x="425.3" y="106.4" width="8.0" height="8.0" fill="#cc2222" stroke="#000" stroke-width="1.0"/><polygon points="451.2,128.4 457.4,138.4 444.9,138.4" fill="#86ee4a" stroke="#000" stroke-width="1.0"/><polygon points="412.4,149.3 418.6,159.3 406.1,159.3" fill="#86ee4a" stroke="#000" stroke-width="1.0"/><circle cx="507.2" cy="117.6" r="5.10" fill="#2a10ee" stroke="#000" stroke-width="1.0"/><circle cx="509.7" cy="121.6" r="5.10" fill="#2a10ee" stroke="#000" stroke-width="1.0"/><circle cx="516.7" cy="124.6" r="5.10" fill="#2a10ee" stroke="#000" stroke-width="1.0"/><circle cx="518.2" cy="129.1" r="5.10" fill="#2a10ee" stroke="#000" stroke-width="1.0"/><circle cx="519.8" cy="132.2" r="5.10" fill="#2a10ee" stroke="#000" stroke-width="1.0"/><circle cx="499.1" cy="128.1" r="5.10" fill="#2a10ee" stroke="#000" stroke-width="1.0"/><circle cx="485.1" cy="138.2" r="5.10" fill="#2a10ee" stroke="#000" stroke-width="1.0"/><circle cx="491.1" cy="137.2" r="5.10" fill="#2a10ee" stroke="#000" stroke-width="1.0"/><circle cx="503.2" cy="134.2" r="5.10" fill="#2a10ee" stroke="#000" stroke-width="1.0"/><circle cx="504.2" cy="139.2" r="5.10" fill="#2a10ee" stroke="#000" stroke-width="1.0"/><circle cx="510.2" cy="152.3" r="5.10" fill="#2a10ee" stroke="#000" stroke-width="1.0"/><circle cx="512.2" cy="159.8" r="5.10" fill="#2a10ee" stroke="#000" stroke-width="1.0"/><circle cx="516.2" cy="144.7" r="5.10" fill="#2a10ee" stroke="#000" stroke-width="1.0"/><circle cx="518.2" cy="135.2" r="5.10" fill="#2a10ee" stroke="#000" stroke-width="1.0"/><circle cx="513.0" cy="130.0" r="5.10" fill="#2a10ee" stroke="#000" stroke-width="1.0"/><circle cx="508.0" cy="145.0" r="5.10" fill="#2a10ee" stroke="#000" stroke-width="1.0"/><polygon points="511.2,146.1 516.2,152.3 511.2,158.6 506.2,152.3" fill="#2a10ee" stroke="#000" stroke-width="1.0" stroke-linejoin="miter"/><polygon points="518.2,149.1 523.2,155.3 518.2,161.6 513.2,155.3" fill="#2a10ee" stroke="#000" stroke-width="1.0" stroke-linejoin="miter"/><polygon points="518.2,158.1 523.2,164.3 518.2,170.6 513.2,164.3" fill="#2a10ee" stroke="#000" stroke-width="1.0" stroke-linejoin="miter"/><polygon points="497.1,133.2 502.9,143.2 491.4,143.2" fill="#86ee4a" stroke="#000" stroke-width="1.0"/><polygon points="482.5,126.1 488.2,136.1 476.8,136.1" fill="#86ee4a" stroke="#000" stroke-width="1.0"/><polygon points="490.6,125.6 496.4,135.6 484.9,135.6" fill="#86ee4a" stroke="#000" stroke-width="1.0"/><polygon points="502.0,122.1 507.8,132.1 496.2,132.1" fill="#86ee4a" stroke="#000" stroke-width="1.0"/><circle cx="510.7" cy="134.2" r="5.10" fill="#86ee4a" stroke="#000" stroke-width="1.0"/><circle cx="504.2" cy="147.2" r="5.10" fill="#86ee4a" stroke="#000" stroke-width="1.0"/><polygon points="490.1,140.2 495.9,150.2 484.4,150.2" fill="#86ee4a" stroke="#000" stroke-width="1.0"/><polygon points="497.6,139.2 503.4,149.2 491.9,149.2" fill="#86ee4a" stroke="#000" stroke-width="1.0"/><polygon points="511.7,134.7 517.5,144.7 505.9,144.7" fill="#86ee4a" stroke="#000" stroke-width="1.0"/><rect x="527.3" y="134.2" width="8.0" height="8.0" fill="#86ee4a" stroke="#000" stroke-width="1.0"/><rect x="513.7" y="134.7" width="8.0" height="8.0" fill="#86ee4a" stroke="#000" stroke-width="1.0"/><rect x="518.3" y="142.2" width="8.0" height="8.0" fill="#86ee4a" stroke="#000" stroke-width="1.0"/><polygon points="531.3,140.9 536.3,147.2 531.3,153.4 526.3,147.2" fill="#86ee4a" stroke="#000" stroke-width="1.0" stroke-linejoin="miter"/><polygon points="527.8,146.1 532.8,152.3 527.8,158.6 522.8,152.3" fill="#86ee4a" stroke="#000" stroke-width="1.0" stroke-linejoin="miter"/><polygon points="537.9,149.1 542.9,155.3 537.9,161.6 532.9,155.3" fill="#86ee4a" stroke="#000" stroke-width="1.0" stroke-linejoin="miter"/><circle cx="513.9" cy="175.4" r="5.40" fill="#82eef2" stroke="#000" stroke-width="1.0"/><circle cx="520.4" cy="176.4" r="5.40" fill="#82eef2" stroke="#000" stroke-width="1.0"/><circle cx="527.4" cy="179.5" r="5.40" fill="#82eef2" stroke="#000" stroke-width="1.0"/><circle cx="522.4" cy="180.5" r="5.40" fill="#82eef2" stroke="#000" stroke-width="1.0"/><circle cx="506.3" cy="183.5" r="5.40" fill="#82eef2" stroke="#000" stroke-width="1.0"/><circle cx="515.9" cy="185.5" r="5.40" fill="#82eef2" stroke="#000" stroke-width="1.0"/><circle cx="526.4" cy="187.5" r="5.40" fill="#82eef2" stroke="#000" stroke-width="1.0"/><circle cx="511.3" cy="192.5" r="5.40" fill="#82eef2" stroke="#000" stroke-width="1.0"/><circle cx="568.0" cy="174.4" r="5.40" fill="#82eef2" stroke="#000" stroke-width="1.0"/><rect x="546.5" y="186.5" width="8.0" height="8.0" fill="#82eef2" stroke="#000" stroke-width="1.0"/><rect x="552.6" y="192.2" width="8.0" height="8.0" fill="#82eef2" stroke="#000" stroke-width="1.0"/><rect x="561.0" y="195.6" width="8.0" height="8.0" fill="#82eef2" stroke="#000" stroke-width="1.0"/><rect x="571.0" y="194.6" width="8.0" height="8.0" fill="#82eef2" stroke="#000" stroke-width="1.0"/><rect x="560.2" y="205.0" width="8.0" height="8.0" fill="#82eef2" stroke="#000" stroke-width="1.0"/><rect x="570.7" y="211.1" width="8.0" height="8.0" fill="#82eef2" stroke="#000" stroke-width="1.0"/><text x="746.9" y="44.8" font-size="9.7" fill="#111" font-weight="bold" text-anchor="start"  stroke="#111" stroke-width="0.2">Southern Levant</text><circle cx="747.0" cy="64.3" r="4.10" fill="#2a10ee" stroke="#000" stroke-width="1.0"/><text x="761.0" y="66.6" font-size="9.6" fill="#222" font-weight="normal" text-anchor="start"  stroke="#222" stroke-width="0.2">Megiddo</text><rect x="743.7" y="80.5" width="6.6" height="6.6" fill="#2a10ee" stroke="#000" stroke-width="1.0"/><text x="761.0" y="86.1" font-size="9.6" fill="#222" font-weight="normal" text-anchor="start"  stroke="#222" stroke-width="0.2">Abel Beth Maacah</text><polygon points="747.0,98.1 751.0,103.3 747.0,108.5 743.0,103.3" fill="#2a10ee" stroke="#000" stroke-width="1.0" stroke-linejoin="miter"/><text x="761.0" y="105.6" font-size="9.6" fill="#222" font-weight="normal" text-anchor="start"  stroke="#222" stroke-width="0.2">Yehud</text><polygon points="747.0,118.5 751.9,127.1 742.1,127.1" fill="#2a10ee" stroke="#000" stroke-width="1.0"/><text x="761.0" y="125.1" font-size="9.6" fill="#222" font-weight="normal" text-anchor="start"  stroke="#222" stroke-width="0.2">Baq'ah</text><polygon points="742.1,138.0 751.9,138.0 747.0,146.6" fill="#2a10ee" stroke="#000" stroke-width="1.0"/><text x="761.0" y="144.6" font-size="9.6" fill="#222" font-weight="normal" text-anchor="start"  stroke="#222" stroke-width="0.2">Hazor</text><circle cx="747.0" cy="161.8" r="4.10" fill="#86ee4a" stroke="#000" stroke-width="1.0"/><text x="761.0" y="164.1" font-size="9.6" fill="#222" font-weight="normal" text-anchor="start"  stroke="#222" stroke-width="0.2">Shadud</text><rect x="743.7" y="178.0" width="6.6" height="6.6" fill="#86ee4a" stroke="#000" stroke-width="1.0"/><text x="761.0" y="183.6" font-size="9.6" fill="#222" font-weight="normal" text-anchor="start"  stroke="#222" stroke-width="0.2">Sidon</text><polygon points="747.0,195.6 751.0,200.8 747.0,206.0 743.0,200.8" fill="#86ee4a" stroke="#000" stroke-width="1.0" stroke-linejoin="miter"/><text x="761.0" y="203.1" font-size="9.6" fill="#222" font-weight="normal" text-anchor="start"  stroke="#222" stroke-width="0.2">'Ain Ghazal</text><polygon points="747.0,216.0 751.9,224.6 742.1,224.6" fill="#86ee4a" stroke="#000" stroke-width="1.0"/><text x="761.0" y="222.6" font-size="9.6" fill="#222" font-weight="normal" text-anchor="start"  stroke="#222" stroke-width="0.2">Ashkelon</text><text x="883.5" y="162.0" font-size="9.7" fill="#111" font-weight="bold" text-anchor="start"  stroke="#111" stroke-width="0.2">Broader region</text><rect x="879.7" y="178.5" width="6.2" height="6.2" fill="#bc16e6" stroke="#000" stroke-width="1.0"/><text x="896.6" y="182.2" font-size="9.6" fill="#222" font-weight="normal" text-anchor="start"  stroke="#222" stroke-width="0.2">Iran Chalcolithic</text><circle cx="882.8" cy="200.6" r="4.20" fill="#bc16e6" stroke="#000" stroke-width="1.0"/><text x="896.6" y="201.2" font-size="9.6" fill="#222" font-weight="normal" text-anchor="start"  stroke="#222" stroke-width="0.2">Iran Neolithic</text><rect x="879.7" y="217.3" width="6.2" height="6.2" fill="#cc2222" stroke="#000" stroke-width="1.0"/><text x="896.6" y="221.0" font-size="9.6" fill="#222" font-weight="normal" text-anchor="start"  stroke="#222" stroke-width="0.2">Armenia Chalcolithic</text><circle cx="882.8" cy="240.2" r="4.20" fill="#d41c1c" stroke="#000" stroke-width="1.0"/><text x="896.6" y="240.8" font-size="9.6" fill="#222" font-weight="normal" text-anchor="start"  stroke="#222" stroke-width="0.2">Armenia EBA</text><rect x="879.7" y="256.9" width="6.2" height="6.2" fill="#82eef2" stroke="#000" stroke-width="1.0"/><text x="896.6" y="260.6" font-size="9.6" fill="#222" font-weight="normal" text-anchor="start"  stroke="#222" stroke-width="0.2">Israel Natufian</text><circle cx="882.8" cy="279.4" r="4.20" fill="#82eef2" stroke="#000" stroke-width="1.0"/><text x="896.6" y="280.0" font-size="9.6" fill="#222" font-weight="normal" text-anchor="start"  stroke="#222" stroke-width="0.2">Israel Neolithic</text><rect x="25.73" y="344.00" width="10.9" height="172.20" fill="#6fa9e2" stroke="#000" stroke-opacity="0.5" stroke-width="1"/><rect x="25.73" y="516.20" width="10.9" height="34.50" fill="#deaa32" stroke="#000" stroke-opacity="0.5" stroke-width="1"/><rect x="25.73" y="550.70" width="10.9" height="16.30" fill="#c2501f" stroke="#000" stroke-opacity="0.5" stroke-width="1"/><rect x="39.40" y="344.00" width="10.9" height="120.60" fill="#6fa9e2" stroke="#000" stroke-opacity="0.5" stroke-width="1"/><rect x="39.40" y="464.60" width="10.9" height="68.30" fill="#76a230" stroke="#000" stroke-opacity="0.5" stroke-width="1"/><rect x="39.40" y="532.90" width="10.9" height="17.80" fill="#deaa32" stroke="#000" stroke-opacity="0.5" stroke-width="1"/><rect x="39.40" y="550.70" width="10.9" height="16.30" fill="#c2501f" stroke="#000" stroke-opacity="0.5" stroke-width="1"/><rect x="53.07" y="344.00" width="10.9" height="79.70" fill="#6fa9e2" stroke="#000" stroke-opacity="0.5" stroke-width="1"/><rect x="53.07" y="423.70" width="10.9" height="104.00" fill="#76a230" stroke="#000" stroke-opacity="0.5" stroke-width="1"/><rect x="53.07" y="527.70" width="10.9" height="26.60" fill="#deaa32" stroke="#000" stroke-opacity="0.5" stroke-width="1"/><rect x="53.07" y="554.30" width="10.9" height="12.70" fill="#c2501f" stroke="#000" stroke-opacity="0.5" stroke-width="1"/><rect x="66.73" y="344.00" width="10.9" height="82.50" fill="#6fa9e2" stroke="#000" stroke-opacity="0.5" stroke-width="1"/><rect x="66.73" y="426.50" width="10.9" height="123.50" fill="#76a230" stroke="#000" stroke-opacity="0.5" stroke-width="1"/><rect x="66.73" y="550.00" width="10.9" height="2.90" fill="#deaa32" stroke="#000" stroke-opacity="0.5" stroke-width="1"/><rect x="66.73" y="552.90" width="10.9" height="14.10" fill="#c2501f" stroke="#000" stroke-opacity="0.5" stroke-width="1"/><rect x="80.40" y="344.00" width="10.9" height="60.70" fill="#6fa9e2" stroke="#000" stroke-opacity="0.5" stroke-width="1"/><rect x="80.40" y="404.70" width="10.9" height="115.00" fill="#76a230" stroke="#000" stroke-opacity="0.5" stroke-width="1"/><rect x="80.40" y="519.70" width="10.9" height="2.70" fill="#6a2c98" stroke="#000" stroke-opacity="0.5" stroke-width="1"/><rect x="80.40" y="522.40" width="10.9" height="23.30" fill="#deaa32" stroke="#000" stroke-opacity="0.5" stroke-width="1"/><rect x="80.40" y="545.70" width="10.9" height="21.30" fill="#c2501f" stroke="#000" stroke-opacity="0.5" stroke-width="1"/><rect x="94.07" y="344.00" width="10.9" height="27.30" fill="#6fa9e2" stroke="#000" stroke-opacity="0.5" stroke-width="1"/><rect x="94.07" y="371.30" width="10.9" height="170.40" fill="#76a230" stroke="#000" stroke-opacity="0.5" stroke-width="1"/><rect x="94.07" y="541.70" width="10.9" height="8.30" fill="#6a2c98" stroke="#000" stroke-opacity="0.5" stroke-width="1"/><rect x="94.07" y="550.00" width="10.9" height="16.30" fill="#c2501f" stroke="#000" stroke-opacity="0.5" stroke-width="1"/><rect x="94.07" y="566.30" width="10.9" height="0.70" fill="#3d6ccc" stroke="#000" stroke-opacity="0.5" stroke-width="1"/><rect x="107.74" y="344.00" width="10.9" height="85.70" fill="#6fa9e2" stroke="#000" stroke-opacity="0.5" stroke-width="1"/><rect x="107.74" y="429.70" width="10.9" height="123.00" fill="#76a230" stroke="#000" stroke-opacity="0.5" stroke-width="1"/><rect x="107.74" y="552.70" width="10.9" height="14.30" fill="#c2501f" stroke="#000" stroke-opacity="0.5" stroke-width="1"/><rect x="121.41" y="344.00" width="10.9" height="187.60" fill="#6fa9e2" stroke="#000" stroke-opacity="0.5" stroke-width="1"/><rect x="121.41" y="531.60" width="10.9" height="1.60" fill="#76a230" stroke="#000" stroke-opacity="0.5" stroke-width="1"/><rect x="121.41" y="533.20" width="10.9" height="7.60" fill="#6a2c98" stroke="#000" stroke-opacity="0.5" stroke-width="1"/><rect x="121.41" y="540.80" width="10.9" height="18.40" fill="#c2501f" stroke="#000" stroke-opacity="0.5" stroke-width="1"/><rect x="121.41" y="559.20" width="10.9" height="7.80" fill="#3d6ccc" stroke="#000" stroke-opacity="0.5" stroke-width="1"/><rect x="135.07" y="344.00" width="10.9" height="191.40" fill="#6fa9e2" stroke="#000" stroke-opacity="0.5" stroke-width="1"/><rect x="135.07" y="535.40" width="10.9" height="6.50" fill="#76a230" stroke="#000" stroke-opacity="0.5" stroke-width="1"/><rect x="135.07" y="541.90" width="10.9" height="1.10" fill="#6a2c98" stroke="#000" stroke-opacity="0.5" stroke-width="1"/><rect x="135.07" y="543.00" width="10.9" height="2.10" fill="#deaa32" stroke="#000" stroke-opacity="0.5" stroke-width="1"/><rect x="135.07" y="545.10" width="10.9" height="21.90" fill="#c2501f" stroke="#000" stroke-opacity="0.5" stroke-width="1"/><rect x="148.74" y="344.00" width="10.9" height="132.70" fill="#6fa9e2" stroke="#000" stroke-opacity="0.5" stroke-width="1"/><rect x="148.74" y="476.70" width="10.9" height="75.00" fill="#76a230" stroke="#000" stroke-opacity="0.5" stroke-width="1"/><rect x="148.74" y="551.70" width="10.9" height="15.30" fill="#c2501f" stroke="#000" stroke-opacity="0.5" stroke-width="1"/><rect x="162.41" y="344.00" width="10.9" height="132.30" fill="#6fa9e2" stroke="#000" stroke-opacity="0.5" stroke-width="1"/><rect x="162.41" y="476.30" width="10.9" height="54.90" fill="#76a230" stroke="#000" stroke-opacity="0.5" stroke-width="1"/><rect x="162.41" y="531.20" width="10.9" height="21.70" fill="#deaa32" stroke="#000" stroke-opacity="0.5" stroke-width="1"/><rect x="162.41" y="552.90" width="10.9" height="14.10" fill="#c2501f" stroke="#000" stroke-opacity="0.5" stroke-width="1"/><rect x="176.08" y="344.00" width="10.9" height="134.50" fill="#6fa9e2" stroke="#000" stroke-opacity="0.5" stroke-width="1"/><rect x="176.08" y="478.50" width="10.9" height="69.40" fill="#76a230" stroke="#000" stroke-opacity="0.5" stroke-width="1"/><rect x="176.08" y="547.90" width="10.9" height="2.80" fill="#6a2c98" stroke="#000" stroke-opacity="0.5" stroke-width="1"/><rect x="176.08" y="550.70" width="10.9" height="16.30" fill="#c2501f" stroke="#000" stroke-opacity="0.5" stroke-width="1"/><rect x="189.75" y="344.00" width="10.9" height="154.70" fill="#6fa9e2" stroke="#000" stroke-opacity="0.5" stroke-width="1"/><rect x="189.75" y="498.70" width="10.9" height="47.80" fill="#76a230" stroke="#000" stroke-opacity="0.5" stroke-width="1"/><rect x="189.75" y="546.50" width="10.9" height="20.50" fill="#c2501f" stroke="#000" stroke-opacity="0.5" stroke-width="1"/><rect x="203.41" y="344.00" width="10.9" height="132.30" fill="#6fa9e2" stroke="#000" stroke-opacity="0.5" stroke-width="1"/><rect x="203.41" y="476.30" width="10.9" height="56.60" fill="#76a230" stroke="#000" stroke-opacity="0.5" stroke-width="1"/><rect x="203.41" y="532.90" width="10.9" height="6.10" fill="#6a2c98" stroke="#000" stroke-opacity="0.5" stroke-width="1"/><rect x="203.41" y="539.00" width="10.9" height="28.00" fill="#c2501f" stroke="#000" stroke-opacity="0.5" stroke-width="1"/><rect x="217.08" y="344.00" width="10.9" height="137.30" fill="#6fa9e2" stroke="#000" stroke-opacity="0.5" stroke-width="1"/><rect x="217.08" y="481.30" width="10.9" height="66.90" fill="#76a230" stroke="#000" stroke-opacity="0.5" stroke-width="1"/><rect x="217.08" y="548.20" width="10.9" height="1.50" fill="#6a2c98" stroke="#000" stroke-opacity="0.5" stroke-width="1"/><rect x="217.08" y="549.70" width="10.9" height="17.30" fill="#c2501f" stroke="#000" stroke-opacity="0.5" stroke-width="1"/><rect x="230.75" y="344.00" width="10.9" height="160.10" fill="#6fa9e2" stroke="#000" stroke-opacity="0.5" stroke-width="1"/><rect x="230.75" y="504.10" width="10.9" height="43.10" fill="#76a230" stroke="#000" stroke-opacity="0.5" stroke-width="1"/><rect x="230.75" y="547.20" width="10.9" height="19.80" fill="#c2501f" stroke="#000" stroke-opacity="0.5" stroke-width="1"/><rect x="244.42" y="344.00" width="10.9" height="134.80" fill="#6fa9e2" stroke="#000" stroke-opacity="0.5" stroke-width="1"/><rect x="244.42" y="478.80" width="10.9" height="71.20" fill="#76a230" stroke="#000" stroke-opacity="0.5" stroke-width="1"/><rect x="244.42" y="550.00" width="10.9" height="17.00" fill="#c2501f" stroke="#000" stroke-opacity="0.5" stroke-width="1"/><rect x="258.09" y="344.00" width="10.9" height="134.50" fill="#6fa9e2" stroke="#000" stroke-opacity="0.5" stroke-width="1"/><rect x="258.09" y="478.50" width="10.9" height="72.20" fill="#76a230" stroke="#000" stroke-opacity="0.5" stroke-width="1"/><rect x="258.09" y="550.70" width="10.9" height="16.30" fill="#c2501f" stroke="#000" stroke-opacity="0.5" stroke-width="1"/><rect x="271.75" y="344.00" width="10.9" height="140.50" fill="#6fa9e2" stroke="#000" stroke-opacity="0.5" stroke-width="1"/><rect x="271.75" y="484.50" width="10.9" height="62.00" fill="#76a230" stroke="#000" stroke-opacity="0.5" stroke-width="1"/><rect x="271.75" y="546.50" width="10.9" height="20.50" fill="#c2501f" stroke="#000" stroke-opacity="0.5" stroke-width="1"/><rect x="285.42" y="344.00" width="10.9" height="148.00" fill="#6fa9e2" stroke="#000" stroke-opacity="0.5" stroke-width="1"/><rect x="285.42" y="492.00" width="10.9" height="58.00" fill="#76a230" stroke="#000" stroke-opacity="0.5" stroke-width="1"/><rect x="285.42" y="550.00" width="10.9" height="17.00" fill="#c2501f" stroke="#000" stroke-opacity="0.5" stroke-width="1"/><rect x="299.09" y="344.00" width="10.9" height="141.60" fill="#6fa9e2" stroke="#000" stroke-opacity="0.5" stroke-width="1"/><rect x="299.09" y="485.60" width="10.9" height="66.20" fill="#76a230" stroke="#000" stroke-opacity="0.5" stroke-width="1"/><rect x="299.09" y="551.80" width="10.9" height="15.20" fill="#c2501f" stroke="#000" stroke-opacity="0.5" stroke-width="1"/><rect x="312.76" y="344.00" width="10.9" height="159.00" fill="#6fa9e2" stroke="#000" stroke-opacity="0.5" stroke-width="1"/><rect x="312.76" y="503.00" width="10.9" height="46.00" fill="#76a230" stroke="#000" stroke-opacity="0.5" stroke-width="1"/><rect x="312.76" y="549.00" width="10.9" height="18.00" fill="#c2501f" stroke="#000" stroke-opacity="0.5" stroke-width="1"/><rect x="326.43" y="344.00" width="10.9" height="139.80" fill="#6fa9e2" stroke="#000" stroke-opacity="0.5" stroke-width="1"/><rect x="326.43" y="483.80" width="10.9" height="70.50" fill="#76a230" stroke="#000" stroke-opacity="0.5" stroke-width="1"/><rect x="326.43" y="554.30" width="10.9" height="12.70" fill="#c2501f" stroke="#000" stroke-opacity="0.5" stroke-width="1"/><rect x="340.09" y="344.00" width="10.9" height="139.80" fill="#6fa9e2" stroke="#000" stroke-opacity="0.5" stroke-width="1"/><rect x="340.09" y="483.80" width="10.9" height="64.10" fill="#76a230" stroke="#000" stroke-opacity="0.5" stroke-width="1"/><rect x="340.09" y="547.90" width="10.9" height="19.10" fill="#c2501f" stroke="#000" stroke-opacity="0.5" stroke-width="1"/><rect x="353.76" y="344.00" width="10.9" height="141.60" fill="#6fa9e2" stroke="#000" stroke-opacity="0.5" stroke-width="1"/><rect x="353.76" y="485.60" width="10.9" height="63.70" fill="#76a230" stroke="#000" stroke-opacity="0.5" stroke-width="1"/><rect x="353.76" y="549.30" width="10.9" height="17.70" fill="#c2501f" stroke="#000" stroke-opacity="0.5" stroke-width="1"/><rect x="367.43" y="344.00" width="10.9" height="142.30" fill="#6fa9e2" stroke="#000" stroke-opacity="0.5" stroke-width="1"/><rect x="367.43" y="486.30" width="10.9" height="63.00" fill="#76a230" stroke="#000" stroke-opacity="0.5" stroke-width="1"/><rect x="367.43" y="549.30" width="10.9" height="17.70" fill="#c2501f" stroke="#000" stroke-opacity="0.5" stroke-width="1"/><rect x="381.10" y="344.00" width="10.9" height="144.40" fill="#6fa9e2" stroke="#000" stroke-opacity="0.5" stroke-width="1"/><rect x="381.10" y="488.40" width="10.9" height="59.10" fill="#76a230" stroke="#000" stroke-opacity="0.5" stroke-width="1"/><rect x="381.10" y="547.50" width="10.9" height="19.50" fill="#c2501f" stroke="#000" stroke-opacity="0.5" stroke-width="1"/><rect x="394.77" y="344.00" width="10.9" height="139.80" fill="#6fa9e2" stroke="#000" stroke-opacity="0.5" stroke-width="1"/><rect x="394.77" y="483.80" width="10.9" height="63.70" fill="#76a230" stroke="#000" stroke-opacity="0.5" stroke-width="1"/><rect x="394.77" y="547.50" width="10.9" height="19.50" fill="#c2501f" stroke="#000" stroke-opacity="0.5" stroke-width="1"/><rect x="408.43" y="344.00" width="10.9" height="143.00" fill="#6fa9e2" stroke="#000" stroke-opacity="0.5" stroke-width="1"/><rect x="408.43" y="487.00" width="10.9" height="61.60" fill="#76a230" stroke="#000" stroke-opacity="0.5" stroke-width="1"/><rect x="408.43" y="548.60" width="10.9" height="18.40" fill="#c2501f" stroke="#000" stroke-opacity="0.5" stroke-width="1"/><rect x="422.10" y="344.00" width="10.9" height="139.80" fill="#6fa9e2" stroke="#000" stroke-opacity="0.5" stroke-width="1"/><rect x="422.10" y="483.80" width="10.9" height="65.50" fill="#76a230" stroke="#000" stroke-opacity="0.5" stroke-width="1"/><rect x="422.10" y="549.30" width="10.9" height="17.70" fill="#c2501f" stroke="#000" stroke-opacity="0.5" stroke-width="1"/><rect x="435.77" y="344.00" width="10.9" height="149.10" fill="#6fa9e2" stroke="#000" stroke-opacity="0.5" stroke-width="1"/><rect x="435.77" y="493.10" width="10.9" height="53.00" fill="#76a230" stroke="#000" stroke-opacity="0.5" stroke-width="1"/><rect x="435.77" y="546.10" width="10.9" height="20.90" fill="#c2501f" stroke="#000" stroke-opacity="0.5" stroke-width="1"/><rect x="449.44" y="344.00" width="10.9" height="152.60" fill="#6fa9e2" stroke="#000" stroke-opacity="0.5" stroke-width="1"/><rect x="449.44" y="496.60" width="10.9" height="48.10" fill="#76a230" stroke="#000" stroke-opacity="0.5" stroke-width="1"/><rect x="449.44" y="544.70" width="10.9" height="22.30" fill="#c2501f" stroke="#000" stroke-opacity="0.5" stroke-width="1"/><rect x="463.11" y="344.00" width="10.9" height="150.50" fill="#6fa9e2" stroke="#000" stroke-opacity="0.5" stroke-width="1"/><rect x="463.11" y="494.50" width="10.9" height="52.00" fill="#76a230" stroke="#000" stroke-opacity="0.5" stroke-width="1"/><rect x="463.11" y="546.50" width="10.9" height="20.50" fill="#c2501f" stroke="#000" stroke-opacity="0.5" stroke-width="1"/><rect x="476.77" y="344.00" width="10.9" height="149.80" fill="#6fa9e2" stroke="#000" stroke-opacity="0.5" stroke-width="1"/><rect x="476.77" y="493.80" width="10.9" height="50.90" fill="#76a230" stroke="#000" stroke-opacity="0.5" stroke-width="1"/><rect x="476.77" y="544.70" width="10.9" height="22.30" fill="#c2501f" stroke="#000" stroke-opacity="0.5" stroke-width="1"/><rect x="490.44" y="344.00" width="10.9" height="153.30" fill="#6fa9e2" stroke="#000" stroke-opacity="0.5" stroke-width="1"/><rect x="490.44" y="497.30" width="10.9" height="50.20" fill="#76a230" stroke="#000" stroke-opacity="0.5" stroke-width="1"/><rect x="490.44" y="547.50" width="10.9" height="19.50" fill="#c2501f" stroke="#000" stroke-opacity="0.5" stroke-width="1"/><rect x="504.11" y="344.00" width="10.9" height="149.80" fill="#6fa9e2" stroke="#000" stroke-opacity="0.5" stroke-width="1"/><rect x="504.11" y="493.80" width="10.9" height="54.10" fill="#76a230" stroke="#000" stroke-opacity="0.5" stroke-width="1"/><rect x="504.11" y="547.90" width="10.9" height="19.10" fill="#c2501f" stroke="#000" stroke-opacity="0.5" stroke-width="1"/><rect x="517.78" y="344.00" width="10.9" height="154.70" fill="#6fa9e2" stroke="#000" stroke-opacity="0.5" stroke-width="1"/><rect x="517.78" y="498.70" width="10.9" height="49.20" fill="#76a230" stroke="#000" stroke-opacity="0.5" stroke-width="1"/><rect x="517.78" y="547.90" width="10.9" height="19.10" fill="#c2501f" stroke="#000" stroke-opacity="0.5" stroke-width="1"/><rect x="531.45" y="344.00" width="10.9" height="151.60" fill="#6fa9e2" stroke="#000" stroke-opacity="0.5" stroke-width="1"/><rect x="531.45" y="495.60" width="10.9" height="53.00" fill="#76a230" stroke="#000" stroke-opacity="0.5" stroke-width="1"/><rect x="531.45" y="548.60" width="10.9" height="18.40" fill="#c2501f" stroke="#000" stroke-opacity="0.5" stroke-width="1"/><rect x="545.11" y="344.00" width="10.9" height="151.60" fill="#6fa9e2" stroke="#000" stroke-opacity="0.5" stroke-width="1"/><rect x="545.11" y="495.60" width="10.9" height="52.30" fill="#76a230" stroke="#000" stroke-opacity="0.5" stroke-width="1"/><rect x="545.11" y="547.90" width="10.9" height="19.10" fill="#c2501f" stroke="#000" stroke-opacity="0.5" stroke-width="1"/><rect x="558.78" y="344.00" width="10.9" height="150.50" fill="#6fa9e2" stroke="#000" stroke-opacity="0.5" stroke-width="1"/><rect x="558.78" y="494.50" width="10.9" height="54.50" fill="#76a230" stroke="#000" stroke-opacity="0.5" stroke-width="1"/><rect x="558.78" y="549.00" width="10.9" height="18.00" fill="#c2501f" stroke="#000" stroke-opacity="0.5" stroke-width="1"/><rect x="572.45" y="344.00" width="10.9" height="146.60" fill="#6fa9e2" stroke="#000" stroke-opacity="0.5" stroke-width="1"/><rect x="572.45" y="490.60" width="10.9" height="55.90" fill="#76a230" stroke="#000" stroke-opacity="0.5" stroke-width="1"/><rect x="572.45" y="546.50" width="10.9" height="2.20" fill="#6a2c98" stroke="#000" stroke-opacity="0.5" stroke-width="1"/><rect x="572.45" y="548.70" width="10.9" height="18.30" fill="#c2501f" stroke="#000" stroke-opacity="0.5" stroke-width="1"/><rect x="586.12" y="344.00" width="10.9" height="151.90" fill="#6fa9e2" stroke="#000" stroke-opacity="0.5" stroke-width="1"/><rect x="586.12" y="495.90" width="10.9" height="54.80" fill="#76a230" stroke="#000" stroke-opacity="0.5" stroke-width="1"/><rect x="586.12" y="550.70" width="10.9" height="16.30" fill="#c2501f" stroke="#000" stroke-opacity="0.5" stroke-width="1"/><rect x="599.79" y="344.00" width="10.9" height="103.90" fill="#6fa9e2" stroke="#000" stroke-opacity="0.5" stroke-width="1"/><rect x="599.79" y="447.90" width="10.9" height="76.80" fill="#76a230" stroke="#000" stroke-opacity="0.5" stroke-width="1"/><rect x="599.79" y="524.70" width="10.9" height="24.30" fill="#deaa32" stroke="#000" stroke-opacity="0.5" stroke-width="1"/><rect x="599.79" y="549.00" width="10.9" height="18.00" fill="#c2501f" stroke="#000" stroke-opacity="0.5" stroke-width="1"/><rect x="613.45" y="344.00" width="10.9" height="102.80" fill="#6fa9e2" stroke="#000" stroke-opacity="0.5" stroke-width="1"/><rect x="613.45" y="446.80" width="10.9" height="77.20" fill="#76a230" stroke="#000" stroke-opacity="0.5" stroke-width="1"/><rect x="613.45" y="524.00" width="10.9" height="22.50" fill="#deaa32" stroke="#000" stroke-opacity="0.5" stroke-width="1"/><rect x="613.45" y="546.50" width="10.9" height="20.50" fill="#c2501f" stroke="#000" stroke-opacity="0.5" stroke-width="1"/><rect x="627.12" y="344.00" width="10.9" height="85.00" fill="#6fa9e2" stroke="#000" stroke-opacity="0.5" stroke-width="1"/><rect x="627.12" y="429.00" width="10.9" height="90.40" fill="#76a230" stroke="#000" stroke-opacity="0.5" stroke-width="1"/><rect x="627.12" y="519.40" width="10.9" height="25.30" fill="#deaa32" stroke="#000" stroke-opacity="0.5" stroke-width="1"/><rect x="627.12" y="544.70" width="10.9" height="22.30" fill="#c2501f" stroke="#000" stroke-opacity="0.5" stroke-width="1"/><rect x="640.79" y="344.00" width="10.9" height="141.60" fill="#6fa9e2" stroke="#000" stroke-opacity="0.5" stroke-width="1"/><rect x="640.79" y="485.60" width="10.9" height="65.10" fill="#76a230" stroke="#000" stroke-opacity="0.5" stroke-width="1"/><rect x="640.79" y="550.70" width="10.9" height="16.30" fill="#c2501f" stroke="#000" stroke-opacity="0.5" stroke-width="1"/><rect x="654.46" y="344.00" width="10.9" height="141.90" fill="#6fa9e2" stroke="#000" stroke-opacity="0.5" stroke-width="1"/><rect x="654.46" y="485.90" width="10.9" height="62.70" fill="#76a230" stroke="#000" stroke-opacity="0.5" stroke-width="1"/><rect x="654.46" y="548.60" width="10.9" height="18.40" fill="#c2501f" stroke="#000" stroke-opacity="0.5" stroke-width="1"/><rect x="668.13" y="344.00" width="10.9" height="136.30" fill="#6fa9e2" stroke="#000" stroke-opacity="0.5" stroke-width="1"/><rect x="668.13" y="480.30" width="10.9" height="65.80" fill="#76a230" stroke="#000" stroke-opacity="0.5" stroke-width="1"/><rect x="668.13" y="546.10" width="10.9" height="20.90" fill="#c2501f" stroke="#000" stroke-opacity="0.5" stroke-width="1"/><rect x="681.79" y="344.00" width="10.9" height="144.10" fill="#6fa9e2" stroke="#000" stroke-opacity="0.5" stroke-width="1"/><rect x="681.79" y="488.10" width="10.9" height="59.10" fill="#76a230" stroke="#000" stroke-opacity="0.5" stroke-width="1"/><rect x="681.79" y="547.20" width="10.9" height="19.80" fill="#c2501f" stroke="#000" stroke-opacity="0.5" stroke-width="1"/><rect x="695.46" y="344.00" width="10.9" height="148.70" fill="#6fa9e2" stroke="#000" stroke-opacity="0.5" stroke-width="1"/><rect x="695.46" y="492.70" width="10.9" height="59.10" fill="#76a230" stroke="#000" stroke-opacity="0.5" stroke-width="1"/><rect x="695.46" y="551.80" width="10.9" height="15.20" fill="#c2501f" stroke="#000" stroke-opacity="0.5" stroke-width="1"/><rect x="709.13" y="344.00" width="10.9" height="164.70" fill="#6fa9e2" stroke="#000" stroke-opacity="0.5" stroke-width="1"/><rect x="709.13" y="508.70" width="10.9" height="36.70" fill="#76a230" stroke="#000" stroke-opacity="0.5" stroke-width="1"/><rect x="709.13" y="545.40" width="10.9" height="21.60" fill="#c2501f" stroke="#000" stroke-opacity="0.5" stroke-width="1"/><rect x="722.80" y="344.00" width="10.9" height="157.30" fill="#6fa9e2" stroke="#000" stroke-opacity="0.5" stroke-width="1"/><rect x="722.80" y="501.30" width="10.9" height="48.70" fill="#76a230" stroke="#000" stroke-opacity="0.5" stroke-width="1"/><rect x="722.80" y="550.00" width="10.9" height="17.00" fill="#c2501f" stroke="#000" stroke-opacity="0.5" stroke-width="1"/><rect x="736.47" y="344.00" width="10.9" height="156.20" fill="#6fa9e2" stroke="#000" stroke-opacity="0.5" stroke-width="1"/><rect x="736.47" y="500.20" width="10.9" height="48.80" fill="#76a230" stroke="#000" stroke-opacity="0.5" stroke-width="1"/><rect x="736.47" y="549.00" width="10.9" height="18.00" fill="#c2501f" stroke="#000" stroke-opacity="0.5" stroke-width="1"/><rect x="750.13" y="344.00" width="10.9" height="155.10" fill="#6fa9e2" stroke="#000" stroke-opacity="0.5" stroke-width="1"/><rect x="750.13" y="499.10" width="10.9" height="52.00" fill="#76a230" stroke="#000" stroke-opacity="0.5" stroke-width="1"/><rect x="750.13" y="551.10" width="10.9" height="15.90" fill="#c2501f" stroke="#000" stroke-opacity="0.5" stroke-width="1"/><rect x="763.80" y="344.00" width="10.9" height="156.90" fill="#6fa9e2" stroke="#000" stroke-opacity="0.5" stroke-width="1"/><rect x="763.80" y="500.90" width="10.9" height="48.10" fill="#76a230" stroke="#000" stroke-opacity="0.5" stroke-width="1"/><rect x="763.80" y="549.00" width="10.9" height="18.00" fill="#c2501f" stroke="#000" stroke-opacity="0.5" stroke-width="1"/><rect x="777.47" y="344.00" width="10.9" height="158.30" fill="#6fa9e2" stroke="#000" stroke-opacity="0.5" stroke-width="1"/><rect x="777.47" y="502.30" width="10.9" height="42.00" fill="#76a230" stroke="#000" stroke-opacity="0.5" stroke-width="1"/><rect x="777.47" y="544.30" width="10.9" height="22.70" fill="#c2501f" stroke="#000" stroke-opacity="0.5" stroke-width="1"/><rect x="791.14" y="344.00" width="10.9" height="139.80" fill="#6fa9e2" stroke="#000" stroke-opacity="0.5" stroke-width="1"/><rect x="791.14" y="483.80" width="10.9" height="65.20" fill="#76a230" stroke="#000" stroke-opacity="0.5" stroke-width="1"/><rect x="791.14" y="549.00" width="10.9" height="18.00" fill="#c2501f" stroke="#000" stroke-opacity="0.5" stroke-width="1"/><rect x="804.81" y="344.00" width="10.9" height="155.10" fill="#6fa9e2" stroke="#000" stroke-opacity="0.5" stroke-width="1"/><rect x="804.81" y="499.10" width="10.9" height="48.80" fill="#76a230" stroke="#000" stroke-opacity="0.5" stroke-width="1"/><rect x="804.81" y="547.90" width="10.9" height="19.10" fill="#c2501f" stroke="#000" stroke-opacity="0.5" stroke-width="1"/><rect x="818.47" y="344.00" width="10.9" height="146.20" fill="#6fa9e2" stroke="#000" stroke-opacity="0.5" stroke-width="1"/><rect x="818.47" y="490.20" width="10.9" height="58.80" fill="#76a230" stroke="#000" stroke-opacity="0.5" stroke-width="1"/><rect x="818.47" y="549.00" width="10.9" height="18.00" fill="#c2501f" stroke="#000" stroke-opacity="0.5" stroke-width="1"/><rect x="832.14" y="344.00" width="10.9" height="147.70" fill="#6fa9e2" stroke="#000" stroke-opacity="0.5" stroke-width="1"/><rect x="832.14" y="491.70" width="10.9" height="61.90" fill="#76a230" stroke="#000" stroke-opacity="0.5" stroke-width="1"/><rect x="832.14" y="553.60" width="10.9" height="13.40" fill="#c2501f" stroke="#000" stroke-opacity="0.5" stroke-width="1"/><rect x="845.81" y="344.00" width="10.9" height="151.60" fill="#6fa9e2" stroke="#000" stroke-opacity="0.5" stroke-width="1"/><rect x="845.81" y="495.60" width="10.9" height="55.10" fill="#76a230" stroke="#000" stroke-opacity="0.5" stroke-width="1"/><rect x="845.81" y="550.70" width="10.9" height="16.30" fill="#c2501f" stroke="#000" stroke-opacity="0.5" stroke-width="1"/><rect x="859.48" y="344.00" width="10.9" height="148.00" fill="#6fa9e2" stroke="#000" stroke-opacity="0.5" stroke-width="1"/><rect x="859.48" y="492.00" width="10.9" height="57.30" fill="#76a230" stroke="#000" stroke-opacity="0.5" stroke-width="1"/><rect x="859.48" y="549.30" width="10.9" height="17.70" fill="#c2501f" stroke="#000" stroke-opacity="0.5" stroke-width="1"/><rect x="873.15" y="344.00" width="10.9" height="139.80" fill="#6fa9e2" stroke="#000" stroke-opacity="0.5" stroke-width="1"/><rect x="873.15" y="483.80" width="10.9" height="65.20" fill="#76a230" stroke="#000" stroke-opacity="0.5" stroke-width="1"/><rect x="873.15" y="549.00" width="10.9" height="18.00" fill="#c2501f" stroke="#000" stroke-opacity="0.5" stroke-width="1"/><rect x="886.81" y="344.00" width="10.9" height="149.40" fill="#6fa9e2" stroke="#000" stroke-opacity="0.5" stroke-width="1"/><rect x="886.81" y="493.40" width="10.9" height="56.60" fill="#76a230" stroke="#000" stroke-opacity="0.5" stroke-width="1"/><rect x="886.81" y="550.00" width="10.9" height="17.00" fill="#c2501f" stroke="#000" stroke-opacity="0.5" stroke-width="1"/><rect x="900.48" y="344.00" width="10.9" height="146.60" fill="#6fa9e2" stroke="#000" stroke-opacity="0.5" stroke-width="1"/><rect x="900.48" y="490.60" width="10.9" height="58.40" fill="#76a230" stroke="#000" stroke-opacity="0.5" stroke-width="1"/><rect x="900.48" y="549.00" width="10.9" height="18.00" fill="#c2501f" stroke="#000" stroke-opacity="0.5" stroke-width="1"/><rect x="914.15" y="344.00" width="10.9" height="146.60" fill="#6fa9e2" stroke="#000" stroke-opacity="0.5" stroke-width="1"/><rect x="914.15" y="490.60" width="10.9" height="57.30" fill="#76a230" stroke="#000" stroke-opacity="0.5" stroke-width="1"/><rect x="914.15" y="547.90" width="10.9" height="19.10" fill="#c2501f" stroke="#000" stroke-opacity="0.5" stroke-width="1"/><rect x="927.82" y="344.00" width="10.9" height="148.70" fill="#6fa9e2" stroke="#000" stroke-opacity="0.5" stroke-width="1"/><rect x="927.82" y="492.70" width="10.9" height="56.30" fill="#76a230" stroke="#000" stroke-opacity="0.5" stroke-width="1"/><rect x="927.82" y="549.00" width="10.9" height="18.00" fill="#c2501f" stroke="#000" stroke-opacity="0.5" stroke-width="1"/><rect x="941.49" y="344.00" width="10.9" height="148.00" fill="#6fa9e2" stroke="#000" stroke-opacity="0.5" stroke-width="1"/><rect x="941.49" y="492.00" width="10.9" height="57.70" fill="#76a230" stroke="#000" stroke-opacity="0.5" stroke-width="1"/><rect x="941.49" y="549.70" width="10.9" height="17.30" fill="#c2501f" stroke="#000" stroke-opacity="0.5" stroke-width="1"/><rect x="955.15" y="344.00" width="10.9" height="143.40" fill="#6fa9e2" stroke="#000" stroke-opacity="0.5" stroke-width="1"/><rect x="955.15" y="487.40" width="10.9" height="62.60" fill="#76a230" stroke="#000" stroke-opacity="0.5" stroke-width="1"/><rect x="955.15" y="550.00" width="10.9" height="17.00" fill="#c2501f" stroke="#000" stroke-opacity="0.5" stroke-width="1"/><rect x="968.82" y="344.00" width="10.9" height="138.70" fill="#6fa9e2" stroke="#000" stroke-opacity="0.5" stroke-width="1"/><rect x="968.82" y="482.70" width="10.9" height="69.10" fill="#76a230" stroke="#000" stroke-opacity="0.5" stroke-width="1"/><rect x="968.82" y="551.80" width="10.9" height="15.20" fill="#c2501f" stroke="#000" stroke-opacity="0.5" stroke-width="1"/><rect x="982.49" y="344.00" width="10.9" height="139.10" fill="#6fa9e2" stroke="#000" stroke-opacity="0.5" stroke-width="1"/><rect x="982.49" y="483.10" width="10.9" height="65.90" fill="#76a230" stroke="#000" stroke-opacity="0.5" stroke-width="1"/><rect x="982.49" y="549.00" width="10.9" height="18.00" fill="#c2501f" stroke="#000" stroke-opacity="0.5" stroke-width="1"/><rect x="996.16" y="344.00" width="10.9" height="145.90" fill="#6fa9e2" stroke="#000" stroke-opacity="0.5" stroke-width="1"/><rect x="996.16" y="489.90" width="10.9" height="58.00" fill="#76a230" stroke="#000" stroke-opacity="0.5" stroke-width="1"/><rect x="996.16" y="547.90" width="10.9" height="19.10" fill="#c2501f" stroke="#000" stroke-opacity="0.5" stroke-width="1"/><rect x="1009.83" y="344.00" width="10.9" height="144.10" fill="#6fa9e2" stroke="#000" stroke-opacity="0.5" stroke-width="1"/><rect x="1009.83" y="488.10" width="10.9" height="62.30" fill="#76a230" stroke="#000" stroke-opacity="0.5" stroke-width="1"/><rect x="1009.83" y="550.40" width="10.9" height="16.60" fill="#c2501f" stroke="#000" stroke-opacity="0.5" stroke-width="1"/><line x1="24.9" y1="343.5" x2="24.9" y2="568" stroke="#7a7a7a" stroke-width="1.4"/><line x1="24.2" y1="567.8" x2="1022" y2="567.8" stroke="#a8a8a8" stroke-width="0.8"/><text x="0" y="0" font-size="19.6" font-weight="bold" fill="#000" transform="translate(30.6,368.4) scale(0.94,1)">C</text><rect x="230.8" y="354.4" width="420.7" height="11.3" fill="#000"/><text x="436.4" y="362.0" font-size="7" fill="#f2f2f2" font-weight="normal" text-anchor="middle" >Megiddo</text><rect x="653.7" y="354.4" width="12.1" height="11.3" fill="#000"/><text x="659.4" y="362.0" font-size="7" fill="#f2f2f2" font-weight="normal" text-anchor="middle" >A</text><rect x="668.0" y="354.4" width="38.7" height="11.3" fill="#000"/><text x="684.0" y="362.0" font-size="7" fill="#f2f2f2" font-weight="normal" text-anchor="middle" >Hazor</text><rect x="708.8" y="354.4" width="38.8" height="11.3" fill="#000"/><text x="724.7" y="362.0" font-size="7" fill="#f2f2f2" font-weight="normal" text-anchor="middle" >Yehud</text><rect x="749.8" y="354.4" width="272.0" height="11.3" fill="#000"/><text x="881.8" y="362.0" font-size="7" fill="#f2f2f2" font-weight="normal" text-anchor="middle" >Baq'ah</text><rect x="244.0" y="372.2" width="25.6" height="11.2" fill="#5a5a5a"/><text x="255.4" y="378.3" font-size="7" fill="#ececec" font-weight="normal" text-anchor="middle" >F5</text><rect x="271.8" y="372.2" width="24.9" height="11.2" fill="#5a5a5a"/><text x="282.9" y="378.3" font-size="7" fill="#ececec" font-weight="normal" text-anchor="middle" >F1</text><rect x="299.2" y="372.2" width="38.4" height="11.2" fill="#5a5a5a"/><text x="317.0" y="378.3" font-size="7" fill="#ececec" font-weight="normal" text-anchor="middle" >F3</text><rect x="435.8" y="372.2" width="23.9" height="11.2" fill="#5a5a5a"/><text x="446.4" y="378.3" font-size="7" fill="#ececec" font-weight="normal" text-anchor="middle" >F2</text><rect x="599.6" y="372.2" width="24.2" height="11.2" fill="#5a5a5a"/><text x="610.3" y="378.3" font-size="7" fill="#ececec" font-weight="normal" text-anchor="middle" >F4</text><rect x="750.1" y="372.2" width="38.2" height="11.2" fill="#5a5a5a"/><text x="767.8" y="378.3" font-size="7" fill="#ececec" font-weight="normal" text-anchor="middle" >F6</text><rect x="859.4" y="372.2" width="24.2" height="11.2" fill="#5a5a5a"/><text x="870.1" y="378.3" font-size="7" fill="#ececec" font-weight="normal" text-anchor="middle" >F7</text><text x="599.8" y="411.0" font-size="12.2" fill="#14203a" font-weight="normal" text-anchor="start" stroke="#14203a" stroke-width="0.45">outliers</text><line x1="598" y1="418.7" x2="638.8" y2="418.7" stroke="#1a2030" stroke-width="1.5"/><line x1="1021.8" y1="343" x2="1021.8" y2="567" stroke="#bbb" stroke-width="0.8"/><text x="0" y="0" font-size="6.3" fill="#1a1a1a" stroke="#1a1a1a" stroke-width="0.18" text-anchor="end" transform="translate(27.99,585.42) rotate(-60)">Anatolia_N (av.)</text><text x="0" y="0" font-size="6.3" fill="#1a1a1a" stroke="#1a1a1a" stroke-width="0.18" text-anchor="end" transform="translate(40.66,587.15) rotate(-60)">Anatolia_ChL (av.)</text><text x="0" y="0" font-size="6.3" fill="#1a1a1a" stroke="#1a1a1a" stroke-width="0.18" text-anchor="end" transform="translate(54.22,587.33) rotate(-60)">Armenia_ChL (av.)</text><text x="0" y="0" font-size="6.3" fill="#1a1a1a" stroke="#1a1a1a" stroke-width="0.18" text-anchor="end" transform="translate(67.75,587.57) rotate(-60)">Armenia_EBA (av.)</text><text x="0" y="0" font-size="6.3" fill="#1a1a1a" stroke="#1a1a1a" stroke-width="0.18" text-anchor="end" transform="translate(80.75,588.73) rotate(-60)">Armenia_MLBA (av.)</text><text x="0" y="0" font-size="6.3" fill="#1a1a1a" stroke="#1a1a1a" stroke-width="0.18" text-anchor="end" transform="translate(98.08,582.38) rotate(-60)">Iran_N (av.)</text><text x="0" y="0" font-size="6.3" fill="#1a1a1a" stroke="#1a1a1a" stroke-width="0.18" text-anchor="end" transform="translate(110.75,584.11) rotate(-60)">Iran_ChL (av.)</text><text x="0" y="0" font-size="6.3" fill="#1a1a1a" stroke="#1a1a1a" stroke-width="0.18" text-anchor="end" transform="translate(124.75,583.54) rotate(-60)">Natufian (av.)</text><text x="0" y="0" font-size="6.3" fill="#1a1a1a" stroke="#1a1a1a" stroke-width="0.18" text-anchor="end" transform="translate(137.90,584.44) rotate(-60)">Levant_N (av.)</text><text x="0" y="0" font-size="6.3" fill="#1a1a1a" stroke="#1a1a1a" stroke-width="0.18" text-anchor="end" transform="translate(149.50,588.02) rotate(-60)">Ashkelon_LBA (av.)</text><text x="0" y="0" font-size="6.3" fill="#1a1a1a" stroke="#1a1a1a" stroke-width="0.18" text-anchor="end" transform="translate(163.48,587.48) rotate(-60)">Ashkelon_IA1 (av.)</text><text x="0" y="0" font-size="6.3" fill="#1a1a1a" stroke="#1a1a1a" stroke-width="0.18" text-anchor="end" transform="translate(177.15,587.48) rotate(-60)">Ashkelon_IA2 (av.)</text><text x="0" y="0" font-size="6.3" fill="#1a1a1a" stroke="#1a1a1a" stroke-width="0.18" text-anchor="end" transform="translate(191.64,586.05) rotate(-60)">Ghazal_IBA (av.)</text><text x="0" y="0" font-size="6.3" fill="#1a1a1a" stroke="#1a1a1a" stroke-width="0.18" text-anchor="end" transform="translate(205.36,585.96) rotate(-60)">Sidon_MBA (av.)</text><text x="0" y="0" font-size="6.3" fill="#1a1a1a" stroke="#1a1a1a" stroke-width="0.18" text-anchor="end" transform="translate(217.68,588.28) rotate(-60)">Shadud_MLBA (av.)</text><text x="0" y="0" font-size="6.3" fill="#1a1a1a" stroke="#1a1a1a" stroke-width="0.18" text-anchor="end" transform="translate(237.27,578.03) rotate(-60)">I4521</text><text x="0" y="0" font-size="6.3" fill="#1a1a1a" stroke="#1a1a1a" stroke-width="0.18" text-anchor="end" transform="translate(250.06,579.55) rotate(-60)">S10769</text><text x="0" y="0" font-size="6.3" fill="#1a1a1a" stroke="#1a1a1a" stroke-width="0.18" text-anchor="end" transform="translate(263.73,579.55) rotate(-60)">S10770</text><text x="0" y="0" font-size="6.3" fill="#1a1a1a" stroke="#1a1a1a" stroke-width="0.18" text-anchor="end" transform="translate(278.28,578.03) rotate(-60)">I2190</text><text x="0" y="0" font-size="6.3" fill="#1a1a1a" stroke="#1a1a1a" stroke-width="0.18" text-anchor="end" transform="translate(291.95,578.03) rotate(-60)">I4519</text><text x="0" y="0" font-size="6.3" fill="#1a1a1a" stroke="#1a1a1a" stroke-width="0.18" text-anchor="end" transform="translate(305.10,578.92) rotate(-60)">I10101</text><text x="0" y="0" font-size="6.3" fill="#1a1a1a" stroke="#1a1a1a" stroke-width="0.18" text-anchor="end" transform="translate(318.77,578.92) rotate(-60)">I10270</text><text x="0" y="0" font-size="6.3" fill="#1a1a1a" stroke="#1a1a1a" stroke-width="0.18" text-anchor="end" transform="translate(332.43,578.92) rotate(-60)">I10359</text><text x="0" y="0" font-size="6.3" fill="#1a1a1a" stroke="#1a1a1a" stroke-width="0.18" text-anchor="end" transform="translate(346.62,578.03) rotate(-60)">I2195</text><text x="0" y="0" font-size="6.3" fill="#1a1a1a" stroke="#1a1a1a" stroke-width="0.18" text-anchor="end" transform="translate(360.29,578.03) rotate(-60)">I4518</text><text x="0" y="0" font-size="6.3" fill="#1a1a1a" stroke="#1a1a1a" stroke-width="0.18" text-anchor="end" transform="translate(373.44,578.92) rotate(-60)">I10099</text><text x="0" y="0" font-size="6.3" fill="#1a1a1a" stroke="#1a1a1a" stroke-width="0.18" text-anchor="end" transform="translate(387.11,578.92) rotate(-60)">I10264</text><text x="0" y="0" font-size="6.3" fill="#1a1a1a" stroke="#1a1a1a" stroke-width="0.18" text-anchor="end" transform="translate(400.77,578.92) rotate(-60)">I10266</text><text x="0" y="0" font-size="6.3" fill="#1a1a1a" stroke="#1a1a1a" stroke-width="0.18" text-anchor="end" transform="translate(414.44,578.92) rotate(-60)">I10268</text><text x="0" y="0" font-size="6.3" fill="#1a1a1a" stroke="#1a1a1a" stroke-width="0.18" text-anchor="end" transform="translate(427.75,579.55) rotate(-60)">S10768</text><text x="0" y="0" font-size="6.3" fill="#1a1a1a" stroke="#1a1a1a" stroke-width="0.18" text-anchor="end" transform="translate(442.29,578.03) rotate(-60)">I9187</text><text x="0" y="0" font-size="6.3" fill="#1a1a1a" stroke="#1a1a1a" stroke-width="0.18" text-anchor="end" transform="translate(455.96,578.03) rotate(-60)">I9188</text><text x="0" y="0" font-size="6.3" fill="#1a1a1a" stroke="#1a1a1a" stroke-width="0.18" text-anchor="end" transform="translate(469.63,578.03) rotate(-60)">I2198</text><text x="0" y="0" font-size="6.3" fill="#1a1a1a" stroke="#1a1a1a" stroke-width="0.18" text-anchor="end" transform="translate(483.30,578.03) rotate(-60)">I4525</text><text x="0" y="0" font-size="6.3" fill="#1a1a1a" stroke="#1a1a1a" stroke-width="0.18" text-anchor="end" transform="translate(496.45,578.92) rotate(-60)">I10097</text><text x="0" y="0" font-size="6.3" fill="#1a1a1a" stroke="#1a1a1a" stroke-width="0.18" text-anchor="end" transform="translate(510.12,578.92) rotate(-60)">I10106</text><text x="0" y="0" font-size="6.3" fill="#1a1a1a" stroke="#1a1a1a" stroke-width="0.18" text-anchor="end" transform="translate(523.79,578.92) rotate(-60)">I10263</text><text x="0" y="0" font-size="6.3" fill="#1a1a1a" stroke="#1a1a1a" stroke-width="0.18" text-anchor="end" transform="translate(537.45,578.92) rotate(-60)">I10092</text><text x="0" y="0" font-size="6.3" fill="#1a1a1a" stroke="#1a1a1a" stroke-width="0.18" text-anchor="end" transform="translate(551.12,578.92) rotate(-60)">I10093</text><text x="0" y="0" font-size="6.3" fill="#1a1a1a" stroke="#1a1a1a" stroke-width="0.18" text-anchor="end" transform="translate(564.79,578.92) rotate(-60)">I10104</text><text x="0" y="0" font-size="6.3" fill="#1a1a1a" stroke="#1a1a1a" stroke-width="0.18" text-anchor="end" transform="translate(578.46,578.92) rotate(-60)">I10265</text><text x="0" y="0" font-size="6.3" fill="#1a1a1a" stroke="#1a1a1a" stroke-width="0.18" text-anchor="end" transform="translate(591.76,579.55) rotate(-60)">S10771</text><text x="0" y="0" font-size="6.3" fill="#1a1a1a" stroke="#1a1a1a" stroke-width="0.18" text-anchor="end" transform="translate(606.31,578.03) rotate(-60)">I2189</text><text x="0" y="0" font-size="6.3" fill="#1a1a1a" stroke="#1a1a1a" stroke-width="0.18" text-anchor="end" transform="translate(619.98,578.03) rotate(-60)">I2200</text><text x="0" y="0" font-size="6.3" fill="#1a1a1a" stroke="#1a1a1a" stroke-width="0.18" text-anchor="end" transform="translate(633.13,578.92) rotate(-60)">I10100</text><text x="0" y="0" font-size="6.3" fill="#1a1a1a" stroke="#1a1a1a" stroke-width="0.18" text-anchor="end" transform="translate(647.31,578.03) rotate(-60)">I4517</text><text x="0" y="0" font-size="6.3" fill="#1a1a1a" stroke="#1a1a1a" stroke-width="0.18" text-anchor="end" transform="translate(660.98,578.03) rotate(-60)">I2201</text><text x="0" y="0" font-size="6.3" fill="#1a1a1a" stroke="#1a1a1a" stroke-width="0.18" text-anchor="end" transform="translate(674.65,578.03) rotate(-60)">I3965</text><text x="0" y="0" font-size="6.3" fill="#1a1a1a" stroke="#1a1a1a" stroke-width="0.18" text-anchor="end" transform="translate(688.32,578.03) rotate(-60)">I3966</text><text x="0" y="0" font-size="6.3" fill="#1a1a1a" stroke="#1a1a1a" stroke-width="0.18" text-anchor="end" transform="translate(701.99,578.03) rotate(-60)">I3652</text><text x="0" y="0" font-size="6.3" fill="#1a1a1a" stroke="#1a1a1a" stroke-width="0.18" text-anchor="end" transform="translate(715.65,578.03) rotate(-60)">I7152</text><text x="0" y="0" font-size="6.3" fill="#1a1a1a" stroke="#1a1a1a" stroke-width="0.18" text-anchor="end" transform="translate(729.32,578.03) rotate(-60)">I6623</text><text x="0" y="0" font-size="6.3" fill="#1a1a1a" stroke="#1a1a1a" stroke-width="0.18" text-anchor="end" transform="translate(742.99,578.03) rotate(-60)">I7003</text><text x="0" y="0" font-size="6.3" fill="#1a1a1a" stroke="#1a1a1a" stroke-width="0.18" text-anchor="end" transform="translate(756.66,578.03) rotate(-60)">I6461</text><text x="0" y="0" font-size="6.3" fill="#1a1a1a" stroke="#1a1a1a" stroke-width="0.18" text-anchor="end" transform="translate(770.33,578.03) rotate(-60)">I3707</text><text x="0" y="0" font-size="6.3" fill="#1a1a1a" stroke="#1a1a1a" stroke-width="0.18" text-anchor="end" transform="translate(783.99,578.03) rotate(-60)">I3985</text><text x="0" y="0" font-size="6.3" fill="#1a1a1a" stroke="#1a1a1a" stroke-width="0.18" text-anchor="end" transform="translate(797.66,578.03) rotate(-60)">I3987</text><text x="0" y="0" font-size="6.3" fill="#1a1a1a" stroke="#1a1a1a" stroke-width="0.18" text-anchor="end" transform="translate(811.33,578.03) rotate(-60)">I3705</text><text x="0" y="0" font-size="6.3" fill="#1a1a1a" stroke="#1a1a1a" stroke-width="0.18" text-anchor="end" transform="translate(825.00,578.03) rotate(-60)">I3706</text><text x="0" y="0" font-size="6.3" fill="#1a1a1a" stroke="#1a1a1a" stroke-width="0.18" text-anchor="end" transform="translate(838.67,578.03) rotate(-60)">I6565</text><text x="0" y="0" font-size="6.3" fill="#1a1a1a" stroke="#1a1a1a" stroke-width="0.18" text-anchor="end" transform="translate(852.33,578.03) rotate(-60)">I6462</text><text x="0" y="0" font-size="6.3" fill="#1a1a1a" stroke="#1a1a1a" stroke-width="0.18" text-anchor="end" transform="translate(866.00,578.03) rotate(-60)">I6464</text><text x="0" y="0" font-size="6.3" fill="#1a1a1a" stroke="#1a1a1a" stroke-width="0.18" text-anchor="end" transform="translate(879.67,578.03) rotate(-60)">I3703</text><text x="0" y="0" font-size="6.3" fill="#1a1a1a" stroke="#1a1a1a" stroke-width="0.18" text-anchor="end" transform="translate(893.34,578.03) rotate(-60)">I6566</text><text x="0" y="0" font-size="6.3" fill="#1a1a1a" stroke="#1a1a1a" stroke-width="0.18" text-anchor="end" transform="translate(907.01,578.03) rotate(-60)">I6567</text><text x="0" y="0" font-size="6.3" fill="#1a1a1a" stroke="#1a1a1a" stroke-width="0.18" text-anchor="end" transform="translate(920.67,578.03) rotate(-60)">I6569</text><text x="0" y="0" font-size="6.3" fill="#1a1a1a" stroke="#1a1a1a" stroke-width="0.18" text-anchor="end" transform="translate(934.34,578.03) rotate(-60)">I6570</text><text x="0" y="0" font-size="6.3" fill="#1a1a1a" stroke="#1a1a1a" stroke-width="0.18" text-anchor="end" transform="translate(948.01,578.03) rotate(-60)">I6571</text><text x="0" y="0" font-size="6.3" fill="#1a1a1a" stroke="#1a1a1a" stroke-width="0.18" text-anchor="end" transform="translate(961.68,578.03) rotate(-60)">I6572</text><text x="0" y="0" font-size="6.3" fill="#1a1a1a" stroke="#1a1a1a" stroke-width="0.18" text-anchor="end" transform="translate(975.35,578.03) rotate(-60)">I6459</text><text x="0" y="0" font-size="6.3" fill="#1a1a1a" stroke="#1a1a1a" stroke-width="0.18" text-anchor="end" transform="translate(989.01,578.03) rotate(-60)">I6460</text><text x="0" y="0" font-size="6.3" fill="#1a1a1a" stroke="#1a1a1a" stroke-width="0.18" text-anchor="end" transform="translate(1002.68,578.03) rotate(-60)">I3986</text><text x="0" y="0" font-size="6.3" fill="#1a1a1a" stroke="#1a1a1a" stroke-width="0.18" text-anchor="end" transform="translate(1016.35,578.03) rotate(-60)">I6564</text></svg></body></html>
